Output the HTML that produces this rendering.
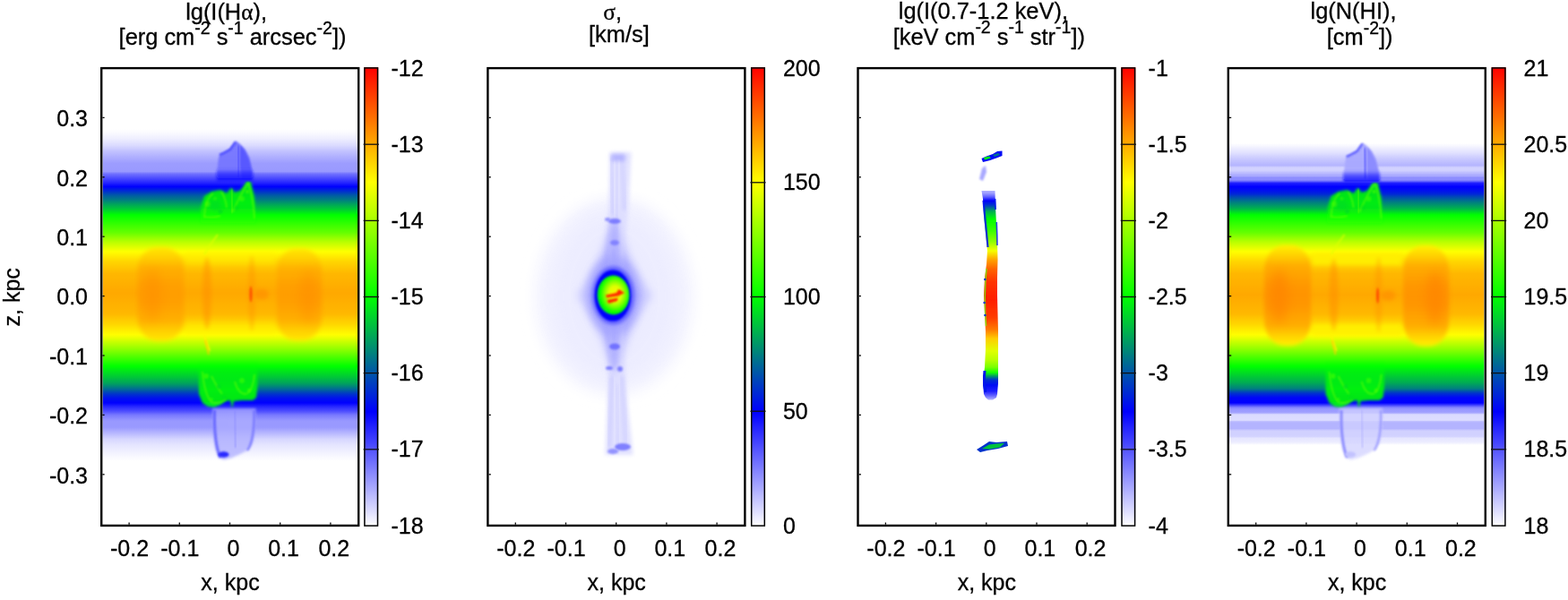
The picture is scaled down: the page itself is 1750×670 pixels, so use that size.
<!DOCTYPE html>
<html><head><meta charset="utf-8"><title>Maps</title>
<style>html,body{margin:0;padding:0;background:#fff;}body{width:1750px;height:670px;overflow:hidden;}svg{display:block;}</style>
</head><body>
<svg width="1750" height="670" viewBox="0 0 1750 670">
<defs><linearGradient id="cbg" x1="0" y1="0" x2="0" y2="1"><stop offset="0.000" stop-color="#ff0000"/><stop offset="0.010" stop-color="#ff0a00"/><stop offset="0.020" stop-color="#ff1400"/><stop offset="0.030" stop-color="#ff1f00"/><stop offset="0.040" stop-color="#ff2900"/><stop offset="0.050" stop-color="#ff3300"/><stop offset="0.060" stop-color="#ff3d00"/><stop offset="0.070" stop-color="#ff4700"/><stop offset="0.080" stop-color="#ff5200"/><stop offset="0.090" stop-color="#ff5c00"/><stop offset="0.100" stop-color="#ff6600"/><stop offset="0.110" stop-color="#ff7000"/><stop offset="0.120" stop-color="#ff7a00"/><stop offset="0.130" stop-color="#ff8500"/><stop offset="0.140" stop-color="#ff8f00"/><stop offset="0.150" stop-color="#ff9900"/><stop offset="0.160" stop-color="#ffa300"/><stop offset="0.170" stop-color="#ffad00"/><stop offset="0.180" stop-color="#ffb800"/><stop offset="0.190" stop-color="#ffc200"/><stop offset="0.200" stop-color="#ffcc00"/><stop offset="0.210" stop-color="#ffd600"/><stop offset="0.220" stop-color="#ffe000"/><stop offset="0.230" stop-color="#ffeb00"/><stop offset="0.240" stop-color="#fff500"/><stop offset="0.250" stop-color="#ffff00"/><stop offset="0.260" stop-color="#f5ff00"/><stop offset="0.270" stop-color="#ebff00"/><stop offset="0.280" stop-color="#e0ff00"/><stop offset="0.290" stop-color="#d6ff00"/><stop offset="0.300" stop-color="#ccff00"/><stop offset="0.310" stop-color="#c2ff00"/><stop offset="0.320" stop-color="#b8ff00"/><stop offset="0.330" stop-color="#adff00"/><stop offset="0.340" stop-color="#a3ff00"/><stop offset="0.350" stop-color="#99ff00"/><stop offset="0.360" stop-color="#8fff00"/><stop offset="0.370" stop-color="#85ff00"/><stop offset="0.380" stop-color="#7aff00"/><stop offset="0.390" stop-color="#70ff00"/><stop offset="0.400" stop-color="#66ff00"/><stop offset="0.410" stop-color="#5cff00"/><stop offset="0.420" stop-color="#52ff00"/><stop offset="0.430" stop-color="#47ff00"/><stop offset="0.440" stop-color="#3dff00"/><stop offset="0.450" stop-color="#33ff00"/><stop offset="0.460" stop-color="#29ff00"/><stop offset="0.470" stop-color="#1fff00"/><stop offset="0.480" stop-color="#14ff00"/><stop offset="0.490" stop-color="#0aff00"/><stop offset="0.500" stop-color="#00ff00"/><stop offset="0.510" stop-color="#00f50a"/><stop offset="0.520" stop-color="#00eb14"/><stop offset="0.530" stop-color="#00e01f"/><stop offset="0.540" stop-color="#00d629"/><stop offset="0.550" stop-color="#00cc33"/><stop offset="0.560" stop-color="#00c23d"/><stop offset="0.570" stop-color="#00b847"/><stop offset="0.580" stop-color="#00ad52"/><stop offset="0.590" stop-color="#00a35c"/><stop offset="0.600" stop-color="#009966"/><stop offset="0.610" stop-color="#008f70"/><stop offset="0.620" stop-color="#00857a"/><stop offset="0.630" stop-color="#007a85"/><stop offset="0.640" stop-color="#00708f"/><stop offset="0.650" stop-color="#006699"/><stop offset="0.660" stop-color="#005ca3"/><stop offset="0.670" stop-color="#0052ad"/><stop offset="0.680" stop-color="#0047b8"/><stop offset="0.690" stop-color="#003dc2"/><stop offset="0.700" stop-color="#0033cc"/><stop offset="0.710" stop-color="#0029d6"/><stop offset="0.720" stop-color="#001fe0"/><stop offset="0.730" stop-color="#0014eb"/><stop offset="0.740" stop-color="#000af5"/><stop offset="0.750" stop-color="#0000ff"/><stop offset="0.760" stop-color="#0a0aff"/><stop offset="0.770" stop-color="#1414ff"/><stop offset="0.780" stop-color="#1f1fff"/><stop offset="0.790" stop-color="#2929ff"/><stop offset="0.800" stop-color="#3333ff"/><stop offset="0.810" stop-color="#3d3dff"/><stop offset="0.820" stop-color="#4747ff"/><stop offset="0.830" stop-color="#5252ff"/><stop offset="0.840" stop-color="#5c5cff"/><stop offset="0.850" stop-color="#6666ff"/><stop offset="0.860" stop-color="#7070ff"/><stop offset="0.870" stop-color="#7a7aff"/><stop offset="0.880" stop-color="#8585ff"/><stop offset="0.890" stop-color="#8f8fff"/><stop offset="0.900" stop-color="#9999ff"/><stop offset="0.910" stop-color="#a3a3ff"/><stop offset="0.920" stop-color="#adadff"/><stop offset="0.930" stop-color="#b8b8ff"/><stop offset="0.940" stop-color="#c2c2ff"/><stop offset="0.950" stop-color="#ccccff"/><stop offset="0.960" stop-color="#d6d6ff"/><stop offset="0.970" stop-color="#e0e0ff"/><stop offset="0.980" stop-color="#ebebff"/><stop offset="0.990" stop-color="#f5f5ff"/><stop offset="1.000" stop-color="#ffffff"/></linearGradient>
<radialGradient id="lober0"><stop offset="0" stop-color="#ff9700"/><stop offset="0.7" stop-color="#ff9e00"/><stop offset="0.88" stop-color="#ffb800"/><stop offset="0.97" stop-color="#ffe500"/><stop offset="1" stop-color="#ffe500" stop-opacity="0.6"/></radialGradient>
<radialGradient id="lober1"><stop offset="0" stop-color="#ff9100"/><stop offset="0.7" stop-color="#ff9900"/><stop offset="0.88" stop-color="#ffba00"/><stop offset="0.97" stop-color="#fff000"/><stop offset="1" stop-color="#fff000" stop-opacity="0.6"/></radialGradient>
<linearGradient id="lobeg0" x1="0" y1="0" x2="0" y2="1"><stop offset="0.00" stop-color="#ffe500"/><stop offset="0.08" stop-color="#ffd600"/><stop offset="0.22" stop-color="#ffaf00"/><stop offset="0.40" stop-color="#ffa000"/><stop offset="0.50" stop-color="#ff9d00"/><stop offset="0.60" stop-color="#ffa000"/><stop offset="0.78" stop-color="#ffaf00"/><stop offset="0.92" stop-color="#ffd600"/><stop offset="1.00" stop-color="#ffe500"/></linearGradient>
<linearGradient id="lobeg1" x1="0" y1="0" x2="0" y2="1"><stop offset="0.00" stop-color="#fff000"/><stop offset="0.07" stop-color="#ffdb00"/><stop offset="0.20" stop-color="#ffad00"/><stop offset="0.40" stop-color="#ff9700"/><stop offset="0.50" stop-color="#ff9400"/><stop offset="0.60" stop-color="#ff9700"/><stop offset="0.80" stop-color="#ffad00"/><stop offset="0.93" stop-color="#ffdb00"/><stop offset="1.00" stop-color="#fff000"/></linearGradient>
<linearGradient id="jetg" gradientUnits="userSpaceOnUse" x1="0" y1="212" x2="0" y2="446"><stop offset="0.0000" stop-color="#b8b8ff"/><stop offset="0.0171" stop-color="#9999ff"/><stop offset="0.0342" stop-color="#5c5cff"/><stop offset="0.0513" stop-color="#0000ff"/><stop offset="0.0726" stop-color="#0033cc"/><stop offset="0.1026" stop-color="#00ad52"/><stop offset="0.1410" stop-color="#00ff00"/><stop offset="0.1966" stop-color="#3dff00"/><stop offset="0.2479" stop-color="#8fff00"/><stop offset="0.2906" stop-color="#f5ff00"/><stop offset="0.3333" stop-color="#ffa300"/><stop offset="0.3761" stop-color="#ff6600"/><stop offset="0.4402" stop-color="#ff3300"/><stop offset="0.5256" stop-color="#ff1f00"/><stop offset="0.6111" stop-color="#ff3d00"/><stop offset="0.6667" stop-color="#ff7a00"/><stop offset="0.7094" stop-color="#ffcc00"/><stop offset="0.7692" stop-color="#e0ff00"/><stop offset="0.8120" stop-color="#b8ff00"/><stop offset="0.8462" stop-color="#7aff00"/><stop offset="0.8718" stop-color="#14ff00"/><stop offset="0.8889" stop-color="#009966"/><stop offset="0.9060" stop-color="#0033cc"/><stop offset="0.9316" stop-color="#000af5"/><stop offset="0.9615" stop-color="#1f1fff"/><stop offset="0.9829" stop-color="#6666ff"/><stop offset="1.0000" stop-color="#adadff"/></linearGradient>
<radialGradient id="blobg" cx="0.55" cy="0.47" r="0.55"><stop offset="0" stop-color="#fff500"/><stop offset="0.35" stop-color="#e0ff00"/><stop offset="0.6" stop-color="#7aff00"/><stop offset="0.8" stop-color="#14ff00"/><stop offset="0.92" stop-color="#00ff00"/><stop offset="1" stop-color="#00ad52"/></radialGradient>
<linearGradient id="wispg" x1="0" y1="0" x2="0" y2="1"><stop offset="0" stop-color="#14ff00" stop-opacity="0"/><stop offset="0.3" stop-color="#0aff00" stop-opacity="0.6"/><stop offset="0.6" stop-color="#00ff00" stop-opacity="0.9"/><stop offset="1" stop-color="#00f50a" stop-opacity="0.95"/></linearGradient>
<linearGradient id="wispu" x1="0" y1="0" x2="0" y2="1"><stop offset="0" stop-color="#00f50a" stop-opacity="0.95"/><stop offset="0.5" stop-color="#00ff00" stop-opacity="0.85"/><stop offset="0.8" stop-color="#14ff00" stop-opacity="0.5"/><stop offset="1" stop-color="#1fff00" stop-opacity="0"/></linearGradient>
<linearGradient id="bbase" x1="0" y1="0" x2="0" y2="1"><stop offset="0" stop-color="#3333ff" stop-opacity="0"/><stop offset="0.45" stop-color="#1414ff" stop-opacity="0.6"/><stop offset="1" stop-color="#0000ff" stop-opacity="0.9"/></linearGradient>
<linearGradient id="band1" gradientUnits="userSpaceOnUse" x1="0" y1="0.0" x2="0" y2="670.0"><stop offset="0.0000" stop-color="#ffffff"/><stop offset="0.0020" stop-color="#ffffff"/><stop offset="0.0039" stop-color="#ffffff"/><stop offset="0.0059" stop-color="#ffffff"/><stop offset="0.0078" stop-color="#ffffff"/><stop offset="0.0098" stop-color="#ffffff"/><stop offset="0.0117" stop-color="#ffffff"/><stop offset="0.0137" stop-color="#ffffff"/><stop offset="0.0157" stop-color="#ffffff"/><stop offset="0.0176" stop-color="#ffffff"/><stop offset="0.0196" stop-color="#ffffff"/><stop offset="0.0215" stop-color="#ffffff"/><stop offset="0.0235" stop-color="#ffffff"/><stop offset="0.0254" stop-color="#ffffff"/><stop offset="0.0274" stop-color="#ffffff"/><stop offset="0.0294" stop-color="#ffffff"/><stop offset="0.0313" stop-color="#ffffff"/><stop offset="0.0333" stop-color="#ffffff"/><stop offset="0.0352" stop-color="#ffffff"/><stop offset="0.0372" stop-color="#ffffff"/><stop offset="0.0391" stop-color="#ffffff"/><stop offset="0.0411" stop-color="#ffffff"/><stop offset="0.0431" stop-color="#ffffff"/><stop offset="0.0450" stop-color="#ffffff"/><stop offset="0.0470" stop-color="#ffffff"/><stop offset="0.0489" stop-color="#ffffff"/><stop offset="0.0509" stop-color="#ffffff"/><stop offset="0.0528" stop-color="#ffffff"/><stop offset="0.0548" stop-color="#ffffff"/><stop offset="0.0568" stop-color="#ffffff"/><stop offset="0.0587" stop-color="#ffffff"/><stop offset="0.0607" stop-color="#ffffff"/><stop offset="0.0626" stop-color="#ffffff"/><stop offset="0.0646" stop-color="#ffffff"/><stop offset="0.0665" stop-color="#ffffff"/><stop offset="0.0685" stop-color="#ffffff"/><stop offset="0.0705" stop-color="#ffffff"/><stop offset="0.0724" stop-color="#ffffff"/><stop offset="0.0744" stop-color="#ffffff"/><stop offset="0.0763" stop-color="#ffffff"/><stop offset="0.0783" stop-color="#ffffff"/><stop offset="0.0802" stop-color="#ffffff"/><stop offset="0.0822" stop-color="#ffffff"/><stop offset="0.0841" stop-color="#ffffff"/><stop offset="0.0861" stop-color="#ffffff"/><stop offset="0.0881" stop-color="#ffffff"/><stop offset="0.0900" stop-color="#ffffff"/><stop offset="0.0920" stop-color="#ffffff"/><stop offset="0.0939" stop-color="#ffffff"/><stop offset="0.0959" stop-color="#ffffff"/><stop offset="0.0978" stop-color="#ffffff"/><stop offset="0.0998" stop-color="#ffffff"/><stop offset="0.1018" stop-color="#ffffff"/><stop offset="0.1037" stop-color="#ffffff"/><stop offset="0.1057" stop-color="#ffffff"/><stop offset="0.1076" stop-color="#ffffff"/><stop offset="0.1096" stop-color="#ffffff"/><stop offset="0.1115" stop-color="#ffffff"/><stop offset="0.1135" stop-color="#ffffff"/><stop offset="0.1155" stop-color="#ffffff"/><stop offset="0.1174" stop-color="#ffffff"/><stop offset="0.1194" stop-color="#ffffff"/><stop offset="0.1213" stop-color="#ffffff"/><stop offset="0.1233" stop-color="#ffffff"/><stop offset="0.1252" stop-color="#ffffff"/><stop offset="0.1272" stop-color="#ffffff"/><stop offset="0.1292" stop-color="#ffffff"/><stop offset="0.1311" stop-color="#ffffff"/><stop offset="0.1331" stop-color="#ffffff"/><stop offset="0.1350" stop-color="#ffffff"/><stop offset="0.1370" stop-color="#ffffff"/><stop offset="0.1389" stop-color="#ffffff"/><stop offset="0.1409" stop-color="#ffffff"/><stop offset="0.1429" stop-color="#ffffff"/><stop offset="0.1448" stop-color="#ffffff"/><stop offset="0.1468" stop-color="#ffffff"/><stop offset="0.1487" stop-color="#ffffff"/><stop offset="0.1507" stop-color="#ffffff"/><stop offset="0.1526" stop-color="#ffffff"/><stop offset="0.1546" stop-color="#ffffff"/><stop offset="0.1566" stop-color="#ffffff"/><stop offset="0.1585" stop-color="#ffffff"/><stop offset="0.1605" stop-color="#ffffff"/><stop offset="0.1624" stop-color="#ffffff"/><stop offset="0.1644" stop-color="#ffffff"/><stop offset="0.1663" stop-color="#ffffff"/><stop offset="0.1683" stop-color="#ffffff"/><stop offset="0.1703" stop-color="#ffffff"/><stop offset="0.1722" stop-color="#ffffff"/><stop offset="0.1742" stop-color="#ffffff"/><stop offset="0.1761" stop-color="#ffffff"/><stop offset="0.1781" stop-color="#ffffff"/><stop offset="0.1800" stop-color="#ffffff"/><stop offset="0.1820" stop-color="#ffffff"/><stop offset="0.1840" stop-color="#ffffff"/><stop offset="0.1859" stop-color="#ffffff"/><stop offset="0.1879" stop-color="#ffffff"/><stop offset="0.1898" stop-color="#ffffff"/><stop offset="0.1918" stop-color="#ffffff"/><stop offset="0.1937" stop-color="#ffffff"/><stop offset="0.1957" stop-color="#ffffff"/><stop offset="0.1977" stop-color="#ffffff"/><stop offset="0.1996" stop-color="#ffffff"/><stop offset="0.2016" stop-color="#ffffff"/><stop offset="0.2035" stop-color="#ffffff"/><stop offset="0.2055" stop-color="#ffffff"/><stop offset="0.2074" stop-color="#ffffff"/><stop offset="0.2094" stop-color="#ffffff"/><stop offset="0.2114" stop-color="#ffffff"/><stop offset="0.2133" stop-color="#ffffff"/><stop offset="0.2153" stop-color="#ffffff"/><stop offset="0.2172" stop-color="#fdfdff"/><stop offset="0.2192" stop-color="#fcfcff"/><stop offset="0.2211" stop-color="#fafaff"/><stop offset="0.2231" stop-color="#f8f8ff"/><stop offset="0.2250" stop-color="#f6f6ff"/><stop offset="0.2270" stop-color="#f3f3ff"/><stop offset="0.2290" stop-color="#f1f1ff"/><stop offset="0.2309" stop-color="#efefff"/><stop offset="0.2329" stop-color="#ececff"/><stop offset="0.2348" stop-color="#e8e8ff"/><stop offset="0.2368" stop-color="#e5e5ff"/><stop offset="0.2387" stop-color="#e1e1ff"/><stop offset="0.2407" stop-color="#dedeff"/><stop offset="0.2427" stop-color="#dadaff"/><stop offset="0.2446" stop-color="#d5d5ff"/><stop offset="0.2466" stop-color="#d0d0ff"/><stop offset="0.2485" stop-color="#cbcbff"/><stop offset="0.2505" stop-color="#c6c6ff"/><stop offset="0.2524" stop-color="#c1c1ff"/><stop offset="0.2544" stop-color="#bdbdff"/><stop offset="0.2564" stop-color="#babaff"/><stop offset="0.2583" stop-color="#b6b6ff"/><stop offset="0.2603" stop-color="#b2b2ff"/><stop offset="0.2622" stop-color="#aeaeff"/><stop offset="0.2642" stop-color="#ababff"/><stop offset="0.2661" stop-color="#a7a7ff"/><stop offset="0.2681" stop-color="#a4a4ff"/><stop offset="0.2701" stop-color="#a0a0ff"/><stop offset="0.2720" stop-color="#9d9dff"/><stop offset="0.2740" stop-color="#9c9cff"/><stop offset="0.2759" stop-color="#9c9cff"/><stop offset="0.2779" stop-color="#9b9bff"/><stop offset="0.2798" stop-color="#9b9bff"/><stop offset="0.2818" stop-color="#9a9aff"/><stop offset="0.2838" stop-color="#9a9aff"/><stop offset="0.2857" stop-color="#9999ff"/><stop offset="0.2877" stop-color="#8686ff"/><stop offset="0.2896" stop-color="#7171ff"/><stop offset="0.2916" stop-color="#6767ff"/><stop offset="0.2935" stop-color="#5d5dff"/><stop offset="0.2955" stop-color="#5353ff"/><stop offset="0.2975" stop-color="#4949ff"/><stop offset="0.2994" stop-color="#3f3fff"/><stop offset="0.3014" stop-color="#3535ff"/><stop offset="0.3033" stop-color="#2b2bff"/><stop offset="0.3053" stop-color="#2121ff"/><stop offset="0.3072" stop-color="#1616ff"/><stop offset="0.3092" stop-color="#0a0aff"/><stop offset="0.3112" stop-color="#0002fd"/><stop offset="0.3131" stop-color="#000df2"/><stop offset="0.3151" stop-color="#0018e7"/><stop offset="0.3170" stop-color="#0024db"/><stop offset="0.3190" stop-color="#0030cf"/><stop offset="0.3209" stop-color="#003cc3"/><stop offset="0.3229" stop-color="#0049b6"/><stop offset="0.3249" stop-color="#0056a9"/><stop offset="0.3268" stop-color="#00609f"/><stop offset="0.3288" stop-color="#006996"/><stop offset="0.3307" stop-color="#00728d"/><stop offset="0.3327" stop-color="#007a85"/><stop offset="0.3346" stop-color="#00847b"/><stop offset="0.3366" stop-color="#008f70"/><stop offset="0.3386" stop-color="#009966"/><stop offset="0.3405" stop-color="#00a45b"/><stop offset="0.3425" stop-color="#00ad52"/><stop offset="0.3444" stop-color="#00b649"/><stop offset="0.3464" stop-color="#00bf40"/><stop offset="0.3483" stop-color="#00c837"/><stop offset="0.3503" stop-color="#00d22d"/><stop offset="0.3523" stop-color="#00dd22"/><stop offset="0.3542" stop-color="#00e817"/><stop offset="0.3562" stop-color="#00f30c"/><stop offset="0.3581" stop-color="#00ff00"/><stop offset="0.3601" stop-color="#06ff00"/><stop offset="0.3620" stop-color="#0dff00"/><stop offset="0.3640" stop-color="#14ff00"/><stop offset="0.3659" stop-color="#1aff00"/><stop offset="0.3679" stop-color="#21ff00"/><stop offset="0.3699" stop-color="#28ff00"/><stop offset="0.3718" stop-color="#2fff00"/><stop offset="0.3738" stop-color="#35ff00"/><stop offset="0.3757" stop-color="#3cff00"/><stop offset="0.3777" stop-color="#43ff00"/><stop offset="0.3796" stop-color="#49ff00"/><stop offset="0.3816" stop-color="#50ff00"/><stop offset="0.3836" stop-color="#57ff00"/><stop offset="0.3855" stop-color="#5dff00"/><stop offset="0.3875" stop-color="#64ff00"/><stop offset="0.3894" stop-color="#6eff00"/><stop offset="0.3914" stop-color="#78ff00"/><stop offset="0.3933" stop-color="#83ff00"/><stop offset="0.3953" stop-color="#8eff00"/><stop offset="0.3973" stop-color="#98ff00"/><stop offset="0.3992" stop-color="#a3ff00"/><stop offset="0.4012" stop-color="#aeff00"/><stop offset="0.4031" stop-color="#b8ff00"/><stop offset="0.4051" stop-color="#c1ff00"/><stop offset="0.4070" stop-color="#c9ff00"/><stop offset="0.4090" stop-color="#d2ff00"/><stop offset="0.4110" stop-color="#daff00"/><stop offset="0.4129" stop-color="#e3ff00"/><stop offset="0.4149" stop-color="#ebff00"/><stop offset="0.4168" stop-color="#f4ff00"/><stop offset="0.4188" stop-color="#fcff00"/><stop offset="0.4207" stop-color="#fffc00"/><stop offset="0.4227" stop-color="#fff700"/><stop offset="0.4247" stop-color="#fff200"/><stop offset="0.4266" stop-color="#ffed00"/><stop offset="0.4286" stop-color="#ffe800"/><stop offset="0.4305" stop-color="#ffe300"/><stop offset="0.4325" stop-color="#ffde00"/><stop offset="0.4344" stop-color="#ffda00"/><stop offset="0.4364" stop-color="#ffd500"/><stop offset="0.4384" stop-color="#ffd200"/><stop offset="0.4403" stop-color="#ffcf00"/><stop offset="0.4423" stop-color="#ffcc00"/><stop offset="0.4442" stop-color="#ffc900"/><stop offset="0.4462" stop-color="#ffc600"/><stop offset="0.4481" stop-color="#ffc300"/><stop offset="0.4501" stop-color="#ffc000"/><stop offset="0.4521" stop-color="#ffbd00"/><stop offset="0.4540" stop-color="#ffba00"/><stop offset="0.4560" stop-color="#ffb700"/><stop offset="0.4579" stop-color="#ffb600"/><stop offset="0.4599" stop-color="#ffb500"/><stop offset="0.4618" stop-color="#ffb500"/><stop offset="0.4638" stop-color="#ffb400"/><stop offset="0.4658" stop-color="#ffb300"/><stop offset="0.4677" stop-color="#ffb200"/><stop offset="0.4697" stop-color="#ffb100"/><stop offset="0.4716" stop-color="#ffb000"/><stop offset="0.4736" stop-color="#ffaf00"/><stop offset="0.4755" stop-color="#ffae00"/><stop offset="0.4775" stop-color="#ffad00"/><stop offset="0.4795" stop-color="#ffac00"/><stop offset="0.4814" stop-color="#ffab00"/><stop offset="0.4834" stop-color="#ffaa00"/><stop offset="0.4853" stop-color="#ffaa00"/><stop offset="0.4873" stop-color="#ffa900"/><stop offset="0.4892" stop-color="#ffa900"/><stop offset="0.4912" stop-color="#ffaa00"/><stop offset="0.4932" stop-color="#ffab00"/><stop offset="0.4951" stop-color="#ffab00"/><stop offset="0.4971" stop-color="#ffac00"/><stop offset="0.4990" stop-color="#ffad00"/><stop offset="0.5010" stop-color="#ffae00"/><stop offset="0.5029" stop-color="#ffaf00"/><stop offset="0.5049" stop-color="#ffb000"/><stop offset="0.5068" stop-color="#ffb100"/><stop offset="0.5088" stop-color="#ffb200"/><stop offset="0.5108" stop-color="#ffb200"/><stop offset="0.5127" stop-color="#ffb300"/><stop offset="0.5147" stop-color="#ffb400"/><stop offset="0.5166" stop-color="#ffb500"/><stop offset="0.5186" stop-color="#ffb600"/><stop offset="0.5205" stop-color="#ffb700"/><stop offset="0.5225" stop-color="#ffb800"/><stop offset="0.5245" stop-color="#ffbb00"/><stop offset="0.5264" stop-color="#ffbe00"/><stop offset="0.5284" stop-color="#ffc200"/><stop offset="0.5303" stop-color="#ffc500"/><stop offset="0.5323" stop-color="#ffc900"/><stop offset="0.5342" stop-color="#ffcc00"/><stop offset="0.5362" stop-color="#ffcf00"/><stop offset="0.5382" stop-color="#ffd300"/><stop offset="0.5401" stop-color="#ffd600"/><stop offset="0.5421" stop-color="#ffda00"/><stop offset="0.5440" stop-color="#ffdf00"/><stop offset="0.5460" stop-color="#ffe300"/><stop offset="0.5479" stop-color="#ffe800"/><stop offset="0.5499" stop-color="#ffec00"/><stop offset="0.5519" stop-color="#fff100"/><stop offset="0.5538" stop-color="#fff500"/><stop offset="0.5558" stop-color="#fff900"/><stop offset="0.5577" stop-color="#fffe00"/><stop offset="0.5597" stop-color="#f8ff00"/><stop offset="0.5616" stop-color="#efff00"/><stop offset="0.5636" stop-color="#e6ff00"/><stop offset="0.5656" stop-color="#dcff00"/><stop offset="0.5675" stop-color="#d3ff00"/><stop offset="0.5695" stop-color="#caff00"/><stop offset="0.5714" stop-color="#c1ff00"/><stop offset="0.5734" stop-color="#b8ff00"/><stop offset="0.5753" stop-color="#afff00"/><stop offset="0.5773" stop-color="#a5ff00"/><stop offset="0.5793" stop-color="#9cff00"/><stop offset="0.5812" stop-color="#93ff00"/><stop offset="0.5832" stop-color="#89ff00"/><stop offset="0.5851" stop-color="#80ff00"/><stop offset="0.5871" stop-color="#76ff00"/><stop offset="0.5890" stop-color="#6cff00"/><stop offset="0.5910" stop-color="#62ff00"/><stop offset="0.5930" stop-color="#58ff00"/><stop offset="0.5949" stop-color="#4eff00"/><stop offset="0.5969" stop-color="#44ff00"/><stop offset="0.5988" stop-color="#3bff00"/><stop offset="0.6008" stop-color="#31ff00"/><stop offset="0.6027" stop-color="#27ff00"/><stop offset="0.6047" stop-color="#1dff00"/><stop offset="0.6067" stop-color="#13ff00"/><stop offset="0.6086" stop-color="#09ff00"/><stop offset="0.6106" stop-color="#00ff00"/><stop offset="0.6125" stop-color="#00f906"/><stop offset="0.6145" stop-color="#00f20d"/><stop offset="0.6164" stop-color="#00ec13"/><stop offset="0.6184" stop-color="#00e619"/><stop offset="0.6204" stop-color="#00e01f"/><stop offset="0.6223" stop-color="#00da25"/><stop offset="0.6243" stop-color="#00d42b"/><stop offset="0.6262" stop-color="#00ce31"/><stop offset="0.6282" stop-color="#00c837"/><stop offset="0.6301" stop-color="#00c13e"/><stop offset="0.6321" stop-color="#00ba45"/><stop offset="0.6341" stop-color="#00b34c"/><stop offset="0.6360" stop-color="#00ad52"/><stop offset="0.6380" stop-color="#00a659"/><stop offset="0.6399" stop-color="#009d62"/><stop offset="0.6419" stop-color="#00926d"/><stop offset="0.6438" stop-color="#008778"/><stop offset="0.6458" stop-color="#007b84"/><stop offset="0.6477" stop-color="#00708f"/><stop offset="0.6497" stop-color="#00639c"/><stop offset="0.6517" stop-color="#0056a9"/><stop offset="0.6536" stop-color="#0048b7"/><stop offset="0.6556" stop-color="#003bc4"/><stop offset="0.6575" stop-color="#002fd0"/><stop offset="0.6595" stop-color="#0026d9"/><stop offset="0.6614" stop-color="#001ce3"/><stop offset="0.6634" stop-color="#0013ec"/><stop offset="0.6654" stop-color="#000df2"/><stop offset="0.6673" stop-color="#0009f6"/><stop offset="0.6693" stop-color="#0005fa"/><stop offset="0.6712" stop-color="#0001fe"/><stop offset="0.6732" stop-color="#0a0aff"/><stop offset="0.6751" stop-color="#1717ff"/><stop offset="0.6771" stop-color="#2424ff"/><stop offset="0.6791" stop-color="#2f2fff"/><stop offset="0.6810" stop-color="#3939ff"/><stop offset="0.6830" stop-color="#4242ff"/><stop offset="0.6849" stop-color="#4c4cff"/><stop offset="0.6869" stop-color="#5858ff"/><stop offset="0.6888" stop-color="#6565ff"/><stop offset="0.6908" stop-color="#7373ff"/><stop offset="0.6928" stop-color="#7d7dff"/><stop offset="0.6947" stop-color="#8383ff"/><stop offset="0.6967" stop-color="#8a8aff"/><stop offset="0.6986" stop-color="#9090ff"/><stop offset="0.7006" stop-color="#9696ff"/><stop offset="0.7025" stop-color="#9999ff"/><stop offset="0.7045" stop-color="#9999ff"/><stop offset="0.7065" stop-color="#9999ff"/><stop offset="0.7084" stop-color="#9999ff"/><stop offset="0.7104" stop-color="#9999ff"/><stop offset="0.7123" stop-color="#9a9aff"/><stop offset="0.7143" stop-color="#a0a0ff"/><stop offset="0.7162" stop-color="#a6a6ff"/><stop offset="0.7182" stop-color="#acacff"/><stop offset="0.7202" stop-color="#b2b2ff"/><stop offset="0.7221" stop-color="#b8b8ff"/><stop offset="0.7241" stop-color="#bebeff"/><stop offset="0.7260" stop-color="#c4c4ff"/><stop offset="0.7280" stop-color="#cacaff"/><stop offset="0.7299" stop-color="#d0d0ff"/><stop offset="0.7319" stop-color="#d6d6ff"/><stop offset="0.7339" stop-color="#d9d9ff"/><stop offset="0.7358" stop-color="#dcdcff"/><stop offset="0.7378" stop-color="#dfdfff"/><stop offset="0.7397" stop-color="#e2e2ff"/><stop offset="0.7417" stop-color="#e5e5ff"/><stop offset="0.7436" stop-color="#e7e7ff"/><stop offset="0.7456" stop-color="#e9e9ff"/><stop offset="0.7476" stop-color="#ebebff"/><stop offset="0.7495" stop-color="#ededff"/><stop offset="0.7515" stop-color="#efefff"/><stop offset="0.7534" stop-color="#f1f1ff"/><stop offset="0.7554" stop-color="#f3f3ff"/><stop offset="0.7573" stop-color="#f5f5ff"/><stop offset="0.7593" stop-color="#f7f7ff"/><stop offset="0.7613" stop-color="#f9f9ff"/><stop offset="0.7632" stop-color="#fbfbff"/><stop offset="0.7652" stop-color="#fcfcff"/><stop offset="0.7671" stop-color="#fefeff"/><stop offset="0.7691" stop-color="#ffffff"/><stop offset="0.7710" stop-color="#ffffff"/><stop offset="0.7730" stop-color="#ffffff"/><stop offset="0.7750" stop-color="#ffffff"/><stop offset="0.7769" stop-color="#ffffff"/><stop offset="0.7789" stop-color="#ffffff"/><stop offset="0.7808" stop-color="#ffffff"/><stop offset="0.7828" stop-color="#ffffff"/><stop offset="0.7847" stop-color="#ffffff"/><stop offset="0.7867" stop-color="#ffffff"/><stop offset="0.7886" stop-color="#ffffff"/><stop offset="0.7906" stop-color="#ffffff"/><stop offset="0.7926" stop-color="#ffffff"/><stop offset="0.7945" stop-color="#ffffff"/><stop offset="0.7965" stop-color="#ffffff"/><stop offset="0.7984" stop-color="#ffffff"/><stop offset="0.8004" stop-color="#ffffff"/><stop offset="0.8023" stop-color="#ffffff"/><stop offset="0.8043" stop-color="#ffffff"/><stop offset="0.8063" stop-color="#ffffff"/><stop offset="0.8082" stop-color="#ffffff"/><stop offset="0.8102" stop-color="#ffffff"/><stop offset="0.8121" stop-color="#ffffff"/><stop offset="0.8141" stop-color="#ffffff"/><stop offset="0.8160" stop-color="#ffffff"/><stop offset="0.8180" stop-color="#ffffff"/><stop offset="0.8200" stop-color="#ffffff"/><stop offset="0.8219" stop-color="#ffffff"/><stop offset="0.8239" stop-color="#ffffff"/><stop offset="0.8258" stop-color="#ffffff"/><stop offset="0.8278" stop-color="#ffffff"/><stop offset="0.8297" stop-color="#ffffff"/><stop offset="0.8317" stop-color="#ffffff"/><stop offset="0.8337" stop-color="#ffffff"/><stop offset="0.8356" stop-color="#ffffff"/><stop offset="0.8376" stop-color="#ffffff"/><stop offset="0.8395" stop-color="#ffffff"/><stop offset="0.8415" stop-color="#ffffff"/><stop offset="0.8434" stop-color="#ffffff"/><stop offset="0.8454" stop-color="#ffffff"/><stop offset="0.8474" stop-color="#ffffff"/><stop offset="0.8493" stop-color="#ffffff"/><stop offset="0.8513" stop-color="#ffffff"/><stop offset="0.8532" stop-color="#ffffff"/><stop offset="0.8552" stop-color="#ffffff"/><stop offset="0.8571" stop-color="#ffffff"/><stop offset="0.8591" stop-color="#ffffff"/><stop offset="0.8611" stop-color="#ffffff"/><stop offset="0.8630" stop-color="#ffffff"/><stop offset="0.8650" stop-color="#ffffff"/><stop offset="0.8669" stop-color="#ffffff"/><stop offset="0.8689" stop-color="#ffffff"/><stop offset="0.8708" stop-color="#ffffff"/><stop offset="0.8728" stop-color="#ffffff"/><stop offset="0.8748" stop-color="#ffffff"/><stop offset="0.8767" stop-color="#ffffff"/><stop offset="0.8787" stop-color="#ffffff"/><stop offset="0.8806" stop-color="#ffffff"/><stop offset="0.8826" stop-color="#ffffff"/><stop offset="0.8845" stop-color="#ffffff"/><stop offset="0.8865" stop-color="#ffffff"/><stop offset="0.8885" stop-color="#ffffff"/><stop offset="0.8904" stop-color="#ffffff"/><stop offset="0.8924" stop-color="#ffffff"/><stop offset="0.8943" stop-color="#ffffff"/><stop offset="0.8963" stop-color="#ffffff"/><stop offset="0.8982" stop-color="#ffffff"/><stop offset="0.9002" stop-color="#ffffff"/><stop offset="0.9022" stop-color="#ffffff"/><stop offset="0.9041" stop-color="#ffffff"/><stop offset="0.9061" stop-color="#ffffff"/><stop offset="0.9080" stop-color="#ffffff"/><stop offset="0.9100" stop-color="#ffffff"/><stop offset="0.9119" stop-color="#ffffff"/><stop offset="0.9139" stop-color="#ffffff"/><stop offset="0.9159" stop-color="#ffffff"/><stop offset="0.9178" stop-color="#ffffff"/><stop offset="0.9198" stop-color="#ffffff"/><stop offset="0.9217" stop-color="#ffffff"/><stop offset="0.9237" stop-color="#ffffff"/><stop offset="0.9256" stop-color="#ffffff"/><stop offset="0.9276" stop-color="#ffffff"/><stop offset="0.9295" stop-color="#ffffff"/><stop offset="0.9315" stop-color="#ffffff"/><stop offset="0.9335" stop-color="#ffffff"/><stop offset="0.9354" stop-color="#ffffff"/><stop offset="0.9374" stop-color="#ffffff"/><stop offset="0.9393" stop-color="#ffffff"/><stop offset="0.9413" stop-color="#ffffff"/><stop offset="0.9432" stop-color="#ffffff"/><stop offset="0.9452" stop-color="#ffffff"/><stop offset="0.9472" stop-color="#ffffff"/><stop offset="0.9491" stop-color="#ffffff"/><stop offset="0.9511" stop-color="#ffffff"/><stop offset="0.9530" stop-color="#ffffff"/><stop offset="0.9550" stop-color="#ffffff"/><stop offset="0.9569" stop-color="#ffffff"/><stop offset="0.9589" stop-color="#ffffff"/><stop offset="0.9609" stop-color="#ffffff"/><stop offset="0.9628" stop-color="#ffffff"/><stop offset="0.9648" stop-color="#ffffff"/><stop offset="0.9667" stop-color="#ffffff"/><stop offset="0.9687" stop-color="#ffffff"/><stop offset="0.9706" stop-color="#ffffff"/><stop offset="0.9726" stop-color="#ffffff"/><stop offset="0.9746" stop-color="#ffffff"/><stop offset="0.9765" stop-color="#ffffff"/><stop offset="0.9785" stop-color="#ffffff"/><stop offset="0.9804" stop-color="#ffffff"/><stop offset="0.9824" stop-color="#ffffff"/><stop offset="0.9843" stop-color="#ffffff"/><stop offset="0.9863" stop-color="#ffffff"/><stop offset="0.9883" stop-color="#ffffff"/><stop offset="0.9902" stop-color="#ffffff"/><stop offset="0.9922" stop-color="#ffffff"/><stop offset="0.9941" stop-color="#ffffff"/><stop offset="0.9961" stop-color="#ffffff"/><stop offset="0.9980" stop-color="#ffffff"/><stop offset="1.0000" stop-color="#ffffff"/></linearGradient>
<linearGradient id="band4" gradientUnits="userSpaceOnUse" x1="0" y1="0.0" x2="0" y2="670.0"><stop offset="0.0000" stop-color="#ffffff"/><stop offset="0.0020" stop-color="#ffffff"/><stop offset="0.0039" stop-color="#ffffff"/><stop offset="0.0059" stop-color="#ffffff"/><stop offset="0.0078" stop-color="#ffffff"/><stop offset="0.0098" stop-color="#ffffff"/><stop offset="0.0117" stop-color="#ffffff"/><stop offset="0.0137" stop-color="#ffffff"/><stop offset="0.0157" stop-color="#ffffff"/><stop offset="0.0176" stop-color="#ffffff"/><stop offset="0.0196" stop-color="#ffffff"/><stop offset="0.0215" stop-color="#ffffff"/><stop offset="0.0235" stop-color="#ffffff"/><stop offset="0.0254" stop-color="#ffffff"/><stop offset="0.0274" stop-color="#ffffff"/><stop offset="0.0294" stop-color="#ffffff"/><stop offset="0.0313" stop-color="#ffffff"/><stop offset="0.0333" stop-color="#ffffff"/><stop offset="0.0352" stop-color="#ffffff"/><stop offset="0.0372" stop-color="#ffffff"/><stop offset="0.0391" stop-color="#ffffff"/><stop offset="0.0411" stop-color="#ffffff"/><stop offset="0.0431" stop-color="#ffffff"/><stop offset="0.0450" stop-color="#ffffff"/><stop offset="0.0470" stop-color="#ffffff"/><stop offset="0.0489" stop-color="#ffffff"/><stop offset="0.0509" stop-color="#ffffff"/><stop offset="0.0528" stop-color="#ffffff"/><stop offset="0.0548" stop-color="#ffffff"/><stop offset="0.0568" stop-color="#ffffff"/><stop offset="0.0587" stop-color="#ffffff"/><stop offset="0.0607" stop-color="#ffffff"/><stop offset="0.0626" stop-color="#ffffff"/><stop offset="0.0646" stop-color="#ffffff"/><stop offset="0.0665" stop-color="#ffffff"/><stop offset="0.0685" stop-color="#ffffff"/><stop offset="0.0705" stop-color="#ffffff"/><stop offset="0.0724" stop-color="#ffffff"/><stop offset="0.0744" stop-color="#ffffff"/><stop offset="0.0763" stop-color="#ffffff"/><stop offset="0.0783" stop-color="#ffffff"/><stop offset="0.0802" stop-color="#ffffff"/><stop offset="0.0822" stop-color="#ffffff"/><stop offset="0.0841" stop-color="#ffffff"/><stop offset="0.0861" stop-color="#ffffff"/><stop offset="0.0881" stop-color="#ffffff"/><stop offset="0.0900" stop-color="#ffffff"/><stop offset="0.0920" stop-color="#ffffff"/><stop offset="0.0939" stop-color="#ffffff"/><stop offset="0.0959" stop-color="#ffffff"/><stop offset="0.0978" stop-color="#ffffff"/><stop offset="0.0998" stop-color="#ffffff"/><stop offset="0.1018" stop-color="#ffffff"/><stop offset="0.1037" stop-color="#ffffff"/><stop offset="0.1057" stop-color="#ffffff"/><stop offset="0.1076" stop-color="#ffffff"/><stop offset="0.1096" stop-color="#ffffff"/><stop offset="0.1115" stop-color="#ffffff"/><stop offset="0.1135" stop-color="#ffffff"/><stop offset="0.1155" stop-color="#ffffff"/><stop offset="0.1174" stop-color="#ffffff"/><stop offset="0.1194" stop-color="#ffffff"/><stop offset="0.1213" stop-color="#ffffff"/><stop offset="0.1233" stop-color="#ffffff"/><stop offset="0.1252" stop-color="#ffffff"/><stop offset="0.1272" stop-color="#ffffff"/><stop offset="0.1292" stop-color="#ffffff"/><stop offset="0.1311" stop-color="#ffffff"/><stop offset="0.1331" stop-color="#ffffff"/><stop offset="0.1350" stop-color="#ffffff"/><stop offset="0.1370" stop-color="#ffffff"/><stop offset="0.1389" stop-color="#ffffff"/><stop offset="0.1409" stop-color="#ffffff"/><stop offset="0.1429" stop-color="#ffffff"/><stop offset="0.1448" stop-color="#ffffff"/><stop offset="0.1468" stop-color="#ffffff"/><stop offset="0.1487" stop-color="#ffffff"/><stop offset="0.1507" stop-color="#ffffff"/><stop offset="0.1526" stop-color="#ffffff"/><stop offset="0.1546" stop-color="#ffffff"/><stop offset="0.1566" stop-color="#ffffff"/><stop offset="0.1585" stop-color="#ffffff"/><stop offset="0.1605" stop-color="#ffffff"/><stop offset="0.1624" stop-color="#ffffff"/><stop offset="0.1644" stop-color="#ffffff"/><stop offset="0.1663" stop-color="#ffffff"/><stop offset="0.1683" stop-color="#ffffff"/><stop offset="0.1703" stop-color="#ffffff"/><stop offset="0.1722" stop-color="#ffffff"/><stop offset="0.1742" stop-color="#ffffff"/><stop offset="0.1761" stop-color="#ffffff"/><stop offset="0.1781" stop-color="#ffffff"/><stop offset="0.1800" stop-color="#ffffff"/><stop offset="0.1820" stop-color="#ffffff"/><stop offset="0.1840" stop-color="#ffffff"/><stop offset="0.1859" stop-color="#ffffff"/><stop offset="0.1879" stop-color="#ffffff"/><stop offset="0.1898" stop-color="#ffffff"/><stop offset="0.1918" stop-color="#ffffff"/><stop offset="0.1937" stop-color="#ffffff"/><stop offset="0.1957" stop-color="#ffffff"/><stop offset="0.1977" stop-color="#ffffff"/><stop offset="0.1996" stop-color="#ffffff"/><stop offset="0.2016" stop-color="#ffffff"/><stop offset="0.2035" stop-color="#ffffff"/><stop offset="0.2055" stop-color="#ffffff"/><stop offset="0.2074" stop-color="#ffffff"/><stop offset="0.2094" stop-color="#ffffff"/><stop offset="0.2114" stop-color="#ffffff"/><stop offset="0.2133" stop-color="#ffffff"/><stop offset="0.2153" stop-color="#ffffff"/><stop offset="0.2172" stop-color="#ffffff"/><stop offset="0.2192" stop-color="#ffffff"/><stop offset="0.2211" stop-color="#ffffff"/><stop offset="0.2231" stop-color="#ffffff"/><stop offset="0.2250" stop-color="#ffffff"/><stop offset="0.2270" stop-color="#ffffff"/><stop offset="0.2290" stop-color="#ffffff"/><stop offset="0.2309" stop-color="#ffffff"/><stop offset="0.2329" stop-color="#ffffff"/><stop offset="0.2348" stop-color="#ffffff"/><stop offset="0.2368" stop-color="#ffffff"/><stop offset="0.2387" stop-color="#ffffff"/><stop offset="0.2407" stop-color="#fbfbff"/><stop offset="0.2427" stop-color="#f8f8ff"/><stop offset="0.2446" stop-color="#f4f4ff"/><stop offset="0.2466" stop-color="#f0f0ff"/><stop offset="0.2485" stop-color="#ececff"/><stop offset="0.2505" stop-color="#e9e9ff"/><stop offset="0.2524" stop-color="#e5e5ff"/><stop offset="0.2544" stop-color="#e2e2ff"/><stop offset="0.2564" stop-color="#ddddff"/><stop offset="0.2583" stop-color="#d8d8ff"/><stop offset="0.2603" stop-color="#d3d3ff"/><stop offset="0.2622" stop-color="#cfcfff"/><stop offset="0.2642" stop-color="#cacaff"/><stop offset="0.2661" stop-color="#c6c6ff"/><stop offset="0.2681" stop-color="#c3c3ff"/><stop offset="0.2701" stop-color="#bfbfff"/><stop offset="0.2720" stop-color="#bbbbff"/><stop offset="0.2740" stop-color="#b8b8ff"/><stop offset="0.2759" stop-color="#b5b5ff"/><stop offset="0.2779" stop-color="#c8c8ff"/><stop offset="0.2798" stop-color="#d2d2ff"/><stop offset="0.2818" stop-color="#d2d2ff"/><stop offset="0.2838" stop-color="#d2d2ff"/><stop offset="0.2857" stop-color="#c9c9ff"/><stop offset="0.2877" stop-color="#bebeff"/><stop offset="0.2896" stop-color="#b8b8ff"/><stop offset="0.2916" stop-color="#aaaaff"/><stop offset="0.2935" stop-color="#aaaaff"/><stop offset="0.2955" stop-color="#8d8dff"/><stop offset="0.2975" stop-color="#8d8dff"/><stop offset="0.2994" stop-color="#8d8dff"/><stop offset="0.3014" stop-color="#7979ff"/><stop offset="0.3033" stop-color="#4848ff"/><stop offset="0.3053" stop-color="#1e1eff"/><stop offset="0.3072" stop-color="#1414ff"/><stop offset="0.3092" stop-color="#0a0aff"/><stop offset="0.3112" stop-color="#0000ff"/><stop offset="0.3131" stop-color="#0005fa"/><stop offset="0.3151" stop-color="#000af5"/><stop offset="0.3170" stop-color="#000ff0"/><stop offset="0.3190" stop-color="#0015ea"/><stop offset="0.3209" stop-color="#001de2"/><stop offset="0.3229" stop-color="#0025da"/><stop offset="0.3249" stop-color="#0031ce"/><stop offset="0.3268" stop-color="#0041be"/><stop offset="0.3288" stop-color="#004eb1"/><stop offset="0.3307" stop-color="#0059a6"/><stop offset="0.3327" stop-color="#00659a"/><stop offset="0.3346" stop-color="#00708f"/><stop offset="0.3366" stop-color="#007b84"/><stop offset="0.3386" stop-color="#008679"/><stop offset="0.3405" stop-color="#008f70"/><stop offset="0.3425" stop-color="#009966"/><stop offset="0.3444" stop-color="#00a25d"/><stop offset="0.3464" stop-color="#00ac53"/><stop offset="0.3483" stop-color="#00b748"/><stop offset="0.3503" stop-color="#00c53a"/><stop offset="0.3523" stop-color="#00d32c"/><stop offset="0.3542" stop-color="#00e21d"/><stop offset="0.3562" stop-color="#00f00f"/><stop offset="0.3581" stop-color="#00fe01"/><stop offset="0.3601" stop-color="#06ff00"/><stop offset="0.3620" stop-color="#0dff00"/><stop offset="0.3640" stop-color="#14ff00"/><stop offset="0.3659" stop-color="#1aff00"/><stop offset="0.3679" stop-color="#21ff00"/><stop offset="0.3699" stop-color="#28ff00"/><stop offset="0.3718" stop-color="#2fff00"/><stop offset="0.3738" stop-color="#35ff00"/><stop offset="0.3757" stop-color="#3cff00"/><stop offset="0.3777" stop-color="#43ff00"/><stop offset="0.3796" stop-color="#49ff00"/><stop offset="0.3816" stop-color="#50ff00"/><stop offset="0.3836" stop-color="#57ff00"/><stop offset="0.3855" stop-color="#5dff00"/><stop offset="0.3875" stop-color="#64ff00"/><stop offset="0.3894" stop-color="#6eff00"/><stop offset="0.3914" stop-color="#78ff00"/><stop offset="0.3933" stop-color="#83ff00"/><stop offset="0.3953" stop-color="#8eff00"/><stop offset="0.3973" stop-color="#98ff00"/><stop offset="0.3992" stop-color="#a3ff00"/><stop offset="0.4012" stop-color="#aeff00"/><stop offset="0.4031" stop-color="#b8ff00"/><stop offset="0.4051" stop-color="#c1ff00"/><stop offset="0.4070" stop-color="#c9ff00"/><stop offset="0.4090" stop-color="#d2ff00"/><stop offset="0.4110" stop-color="#daff00"/><stop offset="0.4129" stop-color="#e3ff00"/><stop offset="0.4149" stop-color="#ebff00"/><stop offset="0.4168" stop-color="#f4ff00"/><stop offset="0.4188" stop-color="#fcff00"/><stop offset="0.4207" stop-color="#fffc00"/><stop offset="0.4227" stop-color="#fff700"/><stop offset="0.4247" stop-color="#fff200"/><stop offset="0.4266" stop-color="#ffed00"/><stop offset="0.4286" stop-color="#ffe800"/><stop offset="0.4305" stop-color="#ffe300"/><stop offset="0.4325" stop-color="#ffde00"/><stop offset="0.4344" stop-color="#ffda00"/><stop offset="0.4364" stop-color="#ffd500"/><stop offset="0.4384" stop-color="#ffd200"/><stop offset="0.4403" stop-color="#ffcf00"/><stop offset="0.4423" stop-color="#ffcc00"/><stop offset="0.4442" stop-color="#ffc900"/><stop offset="0.4462" stop-color="#ffc600"/><stop offset="0.4481" stop-color="#ffc300"/><stop offset="0.4501" stop-color="#ffc000"/><stop offset="0.4521" stop-color="#ffbd00"/><stop offset="0.4540" stop-color="#ffba00"/><stop offset="0.4560" stop-color="#ffb700"/><stop offset="0.4579" stop-color="#ffb600"/><stop offset="0.4599" stop-color="#ffb600"/><stop offset="0.4618" stop-color="#ffb500"/><stop offset="0.4638" stop-color="#ffb400"/><stop offset="0.4658" stop-color="#ffb300"/><stop offset="0.4677" stop-color="#ffb200"/><stop offset="0.4697" stop-color="#ffb100"/><stop offset="0.4716" stop-color="#ffb100"/><stop offset="0.4736" stop-color="#ffb000"/><stop offset="0.4755" stop-color="#ffaf00"/><stop offset="0.4775" stop-color="#ffae00"/><stop offset="0.4795" stop-color="#ffad00"/><stop offset="0.4814" stop-color="#ffac00"/><stop offset="0.4834" stop-color="#ffac00"/><stop offset="0.4853" stop-color="#ffab00"/><stop offset="0.4873" stop-color="#ffaa00"/><stop offset="0.4892" stop-color="#ffa900"/><stop offset="0.4912" stop-color="#ffa800"/><stop offset="0.4932" stop-color="#ffa900"/><stop offset="0.4951" stop-color="#ffaa00"/><stop offset="0.4971" stop-color="#ffab00"/><stop offset="0.4990" stop-color="#ffac00"/><stop offset="0.5010" stop-color="#ffad00"/><stop offset="0.5029" stop-color="#ffae00"/><stop offset="0.5049" stop-color="#ffaf00"/><stop offset="0.5068" stop-color="#ffb000"/><stop offset="0.5088" stop-color="#ffb100"/><stop offset="0.5108" stop-color="#ffb200"/><stop offset="0.5127" stop-color="#ffb300"/><stop offset="0.5147" stop-color="#ffb400"/><stop offset="0.5166" stop-color="#ffb500"/><stop offset="0.5186" stop-color="#ffb600"/><stop offset="0.5205" stop-color="#ffb700"/><stop offset="0.5225" stop-color="#ffb800"/><stop offset="0.5245" stop-color="#ffbb00"/><stop offset="0.5264" stop-color="#ffbe00"/><stop offset="0.5284" stop-color="#ffc200"/><stop offset="0.5303" stop-color="#ffc500"/><stop offset="0.5323" stop-color="#ffc900"/><stop offset="0.5342" stop-color="#ffcc00"/><stop offset="0.5362" stop-color="#ffcf00"/><stop offset="0.5382" stop-color="#ffd300"/><stop offset="0.5401" stop-color="#ffd600"/><stop offset="0.5421" stop-color="#ffda00"/><stop offset="0.5440" stop-color="#ffdf00"/><stop offset="0.5460" stop-color="#ffe300"/><stop offset="0.5479" stop-color="#ffe800"/><stop offset="0.5499" stop-color="#ffec00"/><stop offset="0.5519" stop-color="#fff100"/><stop offset="0.5538" stop-color="#fff500"/><stop offset="0.5558" stop-color="#fff900"/><stop offset="0.5577" stop-color="#fffe00"/><stop offset="0.5597" stop-color="#f8ff00"/><stop offset="0.5616" stop-color="#efff00"/><stop offset="0.5636" stop-color="#e6ff00"/><stop offset="0.5656" stop-color="#dcff00"/><stop offset="0.5675" stop-color="#d3ff00"/><stop offset="0.5695" stop-color="#caff00"/><stop offset="0.5714" stop-color="#c1ff00"/><stop offset="0.5734" stop-color="#b8ff00"/><stop offset="0.5753" stop-color="#afff00"/><stop offset="0.5773" stop-color="#a5ff00"/><stop offset="0.5793" stop-color="#9cff00"/><stop offset="0.5812" stop-color="#93ff00"/><stop offset="0.5832" stop-color="#89ff00"/><stop offset="0.5851" stop-color="#80ff00"/><stop offset="0.5871" stop-color="#76ff00"/><stop offset="0.5890" stop-color="#6cff00"/><stop offset="0.5910" stop-color="#62ff00"/><stop offset="0.5930" stop-color="#58ff00"/><stop offset="0.5949" stop-color="#4eff00"/><stop offset="0.5969" stop-color="#44ff00"/><stop offset="0.5988" stop-color="#3bff00"/><stop offset="0.6008" stop-color="#31ff00"/><stop offset="0.6027" stop-color="#27ff00"/><stop offset="0.6047" stop-color="#1dff00"/><stop offset="0.6067" stop-color="#13ff00"/><stop offset="0.6086" stop-color="#09ff00"/><stop offset="0.6106" stop-color="#00ff00"/><stop offset="0.6125" stop-color="#00f906"/><stop offset="0.6145" stop-color="#00f20d"/><stop offset="0.6164" stop-color="#00ec13"/><stop offset="0.6184" stop-color="#00e619"/><stop offset="0.6204" stop-color="#00e01f"/><stop offset="0.6223" stop-color="#00da25"/><stop offset="0.6243" stop-color="#00d42b"/><stop offset="0.6262" stop-color="#00ce31"/><stop offset="0.6282" stop-color="#00c837"/><stop offset="0.6301" stop-color="#00c23d"/><stop offset="0.6321" stop-color="#00bd42"/><stop offset="0.6341" stop-color="#00b748"/><stop offset="0.6360" stop-color="#00b14e"/><stop offset="0.6380" stop-color="#00ab54"/><stop offset="0.6399" stop-color="#00a25d"/><stop offset="0.6419" stop-color="#009966"/><stop offset="0.6438" stop-color="#00916e"/><stop offset="0.6458" stop-color="#008877"/><stop offset="0.6477" stop-color="#00807f"/><stop offset="0.6497" stop-color="#006c93"/><stop offset="0.6517" stop-color="#0057a8"/><stop offset="0.6536" stop-color="#0043bc"/><stop offset="0.6556" stop-color="#0031ce"/><stop offset="0.6575" stop-color="#0025da"/><stop offset="0.6595" stop-color="#0019e6"/><stop offset="0.6614" stop-color="#000df2"/><stop offset="0.6634" stop-color="#0005fa"/><stop offset="0.6654" stop-color="#0004fb"/><stop offset="0.6673" stop-color="#0002fd"/><stop offset="0.6693" stop-color="#0001fe"/><stop offset="0.6712" stop-color="#0000ff"/><stop offset="0.6732" stop-color="#1c1cff"/><stop offset="0.6751" stop-color="#4040ff"/><stop offset="0.6771" stop-color="#6262ff"/><stop offset="0.6791" stop-color="#8484ff"/><stop offset="0.6810" stop-color="#9292ff"/><stop offset="0.6830" stop-color="#9a9aff"/><stop offset="0.6849" stop-color="#9c9cff"/><stop offset="0.6869" stop-color="#9f9fff"/><stop offset="0.6888" stop-color="#b5b5ff"/><stop offset="0.6908" stop-color="#dadaff"/><stop offset="0.6928" stop-color="#dbdbff"/><stop offset="0.6947" stop-color="#dbdbff"/><stop offset="0.6967" stop-color="#dcdcff"/><stop offset="0.6986" stop-color="#dcdcff"/><stop offset="0.7006" stop-color="#dcdcff"/><stop offset="0.7025" stop-color="#bcbcff"/><stop offset="0.7045" stop-color="#b4b4ff"/><stop offset="0.7065" stop-color="#b4b4ff"/><stop offset="0.7084" stop-color="#b4b4ff"/><stop offset="0.7104" stop-color="#b4b4ff"/><stop offset="0.7123" stop-color="#b4b4ff"/><stop offset="0.7143" stop-color="#b4b4ff"/><stop offset="0.7162" stop-color="#c4c4ff"/><stop offset="0.7182" stop-color="#d0d0ff"/><stop offset="0.7202" stop-color="#d1d1ff"/><stop offset="0.7221" stop-color="#d1d1ff"/><stop offset="0.7241" stop-color="#d1d1ff"/><stop offset="0.7260" stop-color="#d2d2ff"/><stop offset="0.7280" stop-color="#d5d5ff"/><stop offset="0.7299" stop-color="#e6e6ff"/><stop offset="0.7319" stop-color="#e7e7ff"/><stop offset="0.7339" stop-color="#e9e9ff"/><stop offset="0.7358" stop-color="#ebebff"/><stop offset="0.7378" stop-color="#efefff"/><stop offset="0.7397" stop-color="#f7f7ff"/><stop offset="0.7417" stop-color="#ffffff"/><stop offset="0.7436" stop-color="#ffffff"/><stop offset="0.7456" stop-color="#ffffff"/><stop offset="0.7476" stop-color="#ffffff"/><stop offset="0.7495" stop-color="#ffffff"/><stop offset="0.7515" stop-color="#ffffff"/><stop offset="0.7534" stop-color="#ffffff"/><stop offset="0.7554" stop-color="#ffffff"/><stop offset="0.7573" stop-color="#ffffff"/><stop offset="0.7593" stop-color="#ffffff"/><stop offset="0.7613" stop-color="#ffffff"/><stop offset="0.7632" stop-color="#ffffff"/><stop offset="0.7652" stop-color="#ffffff"/><stop offset="0.7671" stop-color="#ffffff"/><stop offset="0.7691" stop-color="#ffffff"/><stop offset="0.7710" stop-color="#ffffff"/><stop offset="0.7730" stop-color="#ffffff"/><stop offset="0.7750" stop-color="#ffffff"/><stop offset="0.7769" stop-color="#ffffff"/><stop offset="0.7789" stop-color="#ffffff"/><stop offset="0.7808" stop-color="#ffffff"/><stop offset="0.7828" stop-color="#ffffff"/><stop offset="0.7847" stop-color="#ffffff"/><stop offset="0.7867" stop-color="#ffffff"/><stop offset="0.7886" stop-color="#ffffff"/><stop offset="0.7906" stop-color="#ffffff"/><stop offset="0.7926" stop-color="#ffffff"/><stop offset="0.7945" stop-color="#ffffff"/><stop offset="0.7965" stop-color="#ffffff"/><stop offset="0.7984" stop-color="#ffffff"/><stop offset="0.8004" stop-color="#ffffff"/><stop offset="0.8023" stop-color="#ffffff"/><stop offset="0.8043" stop-color="#ffffff"/><stop offset="0.8063" stop-color="#ffffff"/><stop offset="0.8082" stop-color="#ffffff"/><stop offset="0.8102" stop-color="#ffffff"/><stop offset="0.8121" stop-color="#ffffff"/><stop offset="0.8141" stop-color="#ffffff"/><stop offset="0.8160" stop-color="#ffffff"/><stop offset="0.8180" stop-color="#ffffff"/><stop offset="0.8200" stop-color="#ffffff"/><stop offset="0.8219" stop-color="#ffffff"/><stop offset="0.8239" stop-color="#ffffff"/><stop offset="0.8258" stop-color="#ffffff"/><stop offset="0.8278" stop-color="#ffffff"/><stop offset="0.8297" stop-color="#ffffff"/><stop offset="0.8317" stop-color="#ffffff"/><stop offset="0.8337" stop-color="#ffffff"/><stop offset="0.8356" stop-color="#ffffff"/><stop offset="0.8376" stop-color="#ffffff"/><stop offset="0.8395" stop-color="#ffffff"/><stop offset="0.8415" stop-color="#ffffff"/><stop offset="0.8434" stop-color="#ffffff"/><stop offset="0.8454" stop-color="#ffffff"/><stop offset="0.8474" stop-color="#ffffff"/><stop offset="0.8493" stop-color="#ffffff"/><stop offset="0.8513" stop-color="#ffffff"/><stop offset="0.8532" stop-color="#ffffff"/><stop offset="0.8552" stop-color="#ffffff"/><stop offset="0.8571" stop-color="#ffffff"/><stop offset="0.8591" stop-color="#ffffff"/><stop offset="0.8611" stop-color="#ffffff"/><stop offset="0.8630" stop-color="#ffffff"/><stop offset="0.8650" stop-color="#ffffff"/><stop offset="0.8669" stop-color="#ffffff"/><stop offset="0.8689" stop-color="#ffffff"/><stop offset="0.8708" stop-color="#ffffff"/><stop offset="0.8728" stop-color="#ffffff"/><stop offset="0.8748" stop-color="#ffffff"/><stop offset="0.8767" stop-color="#ffffff"/><stop offset="0.8787" stop-color="#ffffff"/><stop offset="0.8806" stop-color="#ffffff"/><stop offset="0.8826" stop-color="#ffffff"/><stop offset="0.8845" stop-color="#ffffff"/><stop offset="0.8865" stop-color="#ffffff"/><stop offset="0.8885" stop-color="#ffffff"/><stop offset="0.8904" stop-color="#ffffff"/><stop offset="0.8924" stop-color="#ffffff"/><stop offset="0.8943" stop-color="#ffffff"/><stop offset="0.8963" stop-color="#ffffff"/><stop offset="0.8982" stop-color="#ffffff"/><stop offset="0.9002" stop-color="#ffffff"/><stop offset="0.9022" stop-color="#ffffff"/><stop offset="0.9041" stop-color="#ffffff"/><stop offset="0.9061" stop-color="#ffffff"/><stop offset="0.9080" stop-color="#ffffff"/><stop offset="0.9100" stop-color="#ffffff"/><stop offset="0.9119" stop-color="#ffffff"/><stop offset="0.9139" stop-color="#ffffff"/><stop offset="0.9159" stop-color="#ffffff"/><stop offset="0.9178" stop-color="#ffffff"/><stop offset="0.9198" stop-color="#ffffff"/><stop offset="0.9217" stop-color="#ffffff"/><stop offset="0.9237" stop-color="#ffffff"/><stop offset="0.9256" stop-color="#ffffff"/><stop offset="0.9276" stop-color="#ffffff"/><stop offset="0.9295" stop-color="#ffffff"/><stop offset="0.9315" stop-color="#ffffff"/><stop offset="0.9335" stop-color="#ffffff"/><stop offset="0.9354" stop-color="#ffffff"/><stop offset="0.9374" stop-color="#ffffff"/><stop offset="0.9393" stop-color="#ffffff"/><stop offset="0.9413" stop-color="#ffffff"/><stop offset="0.9432" stop-color="#ffffff"/><stop offset="0.9452" stop-color="#ffffff"/><stop offset="0.9472" stop-color="#ffffff"/><stop offset="0.9491" stop-color="#ffffff"/><stop offset="0.9511" stop-color="#ffffff"/><stop offset="0.9530" stop-color="#ffffff"/><stop offset="0.9550" stop-color="#ffffff"/><stop offset="0.9569" stop-color="#ffffff"/><stop offset="0.9589" stop-color="#ffffff"/><stop offset="0.9609" stop-color="#ffffff"/><stop offset="0.9628" stop-color="#ffffff"/><stop offset="0.9648" stop-color="#ffffff"/><stop offset="0.9667" stop-color="#ffffff"/><stop offset="0.9687" stop-color="#ffffff"/><stop offset="0.9706" stop-color="#ffffff"/><stop offset="0.9726" stop-color="#ffffff"/><stop offset="0.9746" stop-color="#ffffff"/><stop offset="0.9765" stop-color="#ffffff"/><stop offset="0.9785" stop-color="#ffffff"/><stop offset="0.9804" stop-color="#ffffff"/><stop offset="0.9824" stop-color="#ffffff"/><stop offset="0.9843" stop-color="#ffffff"/><stop offset="0.9863" stop-color="#ffffff"/><stop offset="0.9883" stop-color="#ffffff"/><stop offset="0.9902" stop-color="#ffffff"/><stop offset="0.9922" stop-color="#ffffff"/><stop offset="0.9941" stop-color="#ffffff"/><stop offset="0.9961" stop-color="#ffffff"/><stop offset="0.9980" stop-color="#ffffff"/><stop offset="1.0000" stop-color="#ffffff"/></linearGradient>
<filter id="b1" x="-50%" y="-50%" width="200%" height="200%"><feGaussianBlur stdDeviation="1"/></filter>
<filter id="b2" x="-50%" y="-50%" width="200%" height="200%"><feGaussianBlur stdDeviation="2"/></filter>
<filter id="b4" x="-50%" y="-50%" width="200%" height="200%"><feGaussianBlur stdDeviation="4"/></filter>
<filter id="b05" x="-50%" y="-50%" width="200%" height="200%"><feGaussianBlur stdDeviation="0.6"/></filter>
<filter id="b10" x="-50%" y="-50%" width="200%" height="200%"><feGaussianBlur stdDeviation="10"/></filter>
<filter id="b15" x="-50%" y="-50%" width="200%" height="200%"><feGaussianBlur stdDeviation="1.5"/></filter>
<filter id="b25" x="-50%" y="-50%" width="200%" height="200%"><feGaussianBlur stdDeviation="2.5"/></filter>
<filter id="b3" x="-50%" y="-50%" width="200%" height="200%"><feGaussianBlur stdDeviation="3"/></filter>
<filter id="b6" x="-50%" y="-50%" width="200%" height="200%"><feGaussianBlur stdDeviation="6"/></filter>
<filter id="b8" x="-50%" y="-50%" width="200%" height="200%"><feGaussianBlur stdDeviation="8"/></filter>
<clipPath id="clip0"><rect x="114.4" y="77.3" width="284.6" height="508.4"/></clipPath>
<clipPath id="clip1"><rect x="545.6" y="77.3" width="284.6" height="508.4"/></clipPath>
<clipPath id="clip2"><rect x="958.7" y="77.3" width="284.6" height="508.4"/></clipPath>
<clipPath id="clip3"><rect x="1372.0" y="77.3" width="284.6" height="508.4"/></clipPath></defs>
<rect width="1750" height="670" fill="#fff"/>
<g clip-path="url(#clip0)">
<rect x="114.4" y="77.3" width="284.6" height="508.4" fill="url(#band1)"/>
<rect x="153.5" y="276.5" width="52.0" height="104.0" rx="22.1" ry="26.0" fill="url(#lobeg0)" filter="url(#b25)"/>
<rect x="309.0" y="278.0" width="50.0" height="102.0" rx="21.2" ry="25.5" fill="url(#lobeg0)" filter="url(#b25)"/>
<ellipse cx="170.0" cy="329.5" rx="10" ry="30" fill="#ff8000" opacity="0.30" filter="url(#b6)"/>
<ellipse cx="344.0" cy="331.5" rx="10" ry="30" fill="#ff8000" opacity="0.30" filter="url(#b6)"/>
<rect x="207.0" y="281.5" width="100.0" height="13" fill="#fff000" opacity="0.45" filter="url(#b25)"/>
<rect x="207.0" y="360.5" width="100.0" height="13" fill="#fff000" opacity="0.45" filter="url(#b25)"/>
<ellipse cx="231.0" cy="327.5" rx="5" ry="40" fill="#ff8500" opacity="0.4" filter="url(#b2)"/>
<ellipse cx="281.0" cy="327.5" rx="4" ry="42" fill="#ff8500" opacity="0.3" filter="url(#b2)"/>
<ellipse cx="280.0" cy="328.5" rx="1.6" ry="9" fill="#ff5200" filter="url(#b1)"/>
<ellipse cx="292.0" cy="328.5" rx="8" ry="6" fill="#ff8500" opacity="0.5" filter="url(#b2)"/>
<path d="M228.0 284 Q 234.0 274 243.0 262" stroke="#e0ff00" stroke-width="2" fill="none" opacity="0.7" filter="url(#b1)"/>
<path d="M228.0 374 Q 230.0 382 234.0 392" stroke="#fff500" stroke-width="2.5" fill="none" opacity="0.8" filter="url(#b1)"/>
<path d="M223.0 252.0 L224.0 232.0 L228.0 219.0 L236.0 214.0 L246.0 212.0 L253.0 216.0 L258.0 209.5 L262.0 215.0 L268.0 213.0 L276.0 201.5 L280.0 203.0 L284.0 220.0 L286.0 252.0 Z" fill="url(#wispu)" filter="url(#b15)"/>
<path d="M228.0 243 Q 229.0 222 238.0 216" stroke="#66ff00" stroke-width="2" fill="none" opacity="0.55" filter="url(#b1)"/>
<path d="M247.0 214 Q 252.0 222 253.0 232" stroke="#66ff00" stroke-width="2" fill="none" opacity="0.55" filter="url(#b1)"/>
<path d="M246.0 241 Q 236.0 244 228.0 242" stroke="#66ff00" stroke-width="2" fill="none" opacity="0.55" filter="url(#b1)"/>
<path d="M258.5 211 L 259.0 238" stroke="#66ff00" stroke-width="2" fill="none" opacity="0.55" filter="url(#b1)"/>
<path d="M259.5 237 Q 268.0 218 277.0 204" stroke="#66ff00" stroke-width="2" fill="none" opacity="0.55" filter="url(#b1)"/>
<path d="M277.0 204 Q 283.0 222 284.0 244" stroke="#66ff00" stroke-width="2" fill="none" opacity="0.55" filter="url(#b1)"/>
<circle cx="232.0" cy="228.0" r="3.0" fill="#52ff00" opacity="0.6" filter="url(#b1)"/>
<circle cx="246.0" cy="236.0" r="2.5" fill="#00d629" opacity="0.6" filter="url(#b1)"/>
<circle cx="270.0" cy="222.0" r="3.0" fill="#3dff00" opacity="0.6" filter="url(#b1)"/>
<circle cx="264.0" cy="232.0" r="2.5" fill="#00e01f" opacity="0.6" filter="url(#b1)"/>
<circle cx="240.0" cy="222.0" r="2.0" fill="#3dff00" opacity="0.6" filter="url(#b1)"/>
<circle cx="276.0" cy="214.0" r="2.0" fill="#52ff00" opacity="0.6" filter="url(#b1)"/>
<ellipse cx="240.0" cy="229" rx="7" ry="6" fill="#00d629" opacity="0.5" filter="url(#b2)"/>
<path d="M262.8 157.3 L256.0 166.0 L250.0 170.0 L246.0 171.5 L244.0 176.0 L243.0 185.0 L242.0 195.0 L241.5 201.0 L282.5 201.0 L282.0 195.0 L280.5 185.0 L278.0 175.0 L273.0 166.0 L267.0 160.0 Z" fill="#7575ff" opacity="0.92" filter="url(#b1)"/>
<path d="M268.0 162.0 L273.0 168.0 L278.0 178.0 L281.0 190.0 L282.0 200.0 L270.0 200.0 L268.0 186.0 Z" fill="#4c4cff" opacity="0.7" filter="url(#b1)"/>
<path d="M262.8 158.5 L 257.0 167.0 L 249.5 171.0 L 245.0 173.0" stroke="#3333ff" stroke-width="2.2" fill="none" opacity="0.7" filter="url(#b1)"/>
<path d="M265.5 163.0 L 266.5 198.0" stroke="#3d3dff" stroke-width="3" fill="none" opacity="0.55" filter="url(#b15)"/>
<rect x="241.5" y="188.0" width="41" height="14" fill="url(#bbase)" filter="url(#b15)"/>
<path d="M221.5 402.0 L222.0 440.0 L226.0 450.0 L232.0 454.0 L239.0 455.0 L246.0 452.0 L252.0 448.0 L257.0 447.0 L259.0 456.0 L261.0 448.0 L270.0 447.0 L282.0 447.0 L286.0 444.0 L287.5 430.0 L287.5 402.0 Z" fill="url(#wispg)" filter="url(#b15)"/>
<path d="M259.4 439 L 259.4 456" stroke="#66ff00" stroke-width="2" fill="none" opacity="0.55" filter="url(#b1)"/>
<path d="M262.0 426 Q 266.0 440 274.0 440 Q 282.0 438 284.0 418" stroke="#66ff00" stroke-width="2" fill="none" opacity="0.55" filter="url(#b1)"/>
<path d="M226.0 415 Q 228.0 440 236.0 449 Q 244.0 452 252.0 446" stroke="#66ff00" stroke-width="2" fill="none" opacity="0.55" filter="url(#b1)"/>
<path d="M236.0 420 Q 242.0 432 248.0 440" stroke="#66ff00" stroke-width="2" fill="none" opacity="0.55" filter="url(#b1)"/>
<circle cx="230.0" cy="420.0" r="3.0" fill="#47ff00" opacity="0.6" filter="url(#b1)"/>
<circle cx="244.0" cy="432.0" r="2.5" fill="#00d629" opacity="0.6" filter="url(#b1)"/>
<circle cx="270.0" cy="425.0" r="3.0" fill="#3dff00" opacity="0.6" filter="url(#b1)"/>
<circle cx="250.0" cy="444.0" r="2.5" fill="#00e01f" opacity="0.6" filter="url(#b1)"/>
<circle cx="236.0" cy="446.0" r="2.0" fill="#33ff00" opacity="0.6" filter="url(#b1)"/>
<circle cx="278.0" cy="436.0" r="2.0" fill="#52ff00" opacity="0.6" filter="url(#b1)"/>
<path d="M229.0 380 Q 231.0 388 233.0 396" stroke="#ffcc00" stroke-width="2" fill="none" opacity="0.7" filter="url(#b1)"/>
<path d="M237.0 456.0 L238.0 480.0 L240.0 500.0 L244.0 511.0 L250.0 513.5 L258.0 511.5 L266.0 508.0 L276.0 503.0 L282.0 495.0 L285.0 480.0 L285.5 456.0 Z" fill="#adadff" opacity="0.75" filter="url(#b15)"/>
<path d="M239.5 458 C 239.0 480 241.0 500 246.0 511" stroke="#5252ff" stroke-width="3" fill="none" opacity="0.75" filter="url(#b1)"/>
<path d="M283.5 458 C 284.0 480 282.0 495 276.0 503" stroke="#6666ff" stroke-width="2.5" fill="none" opacity="0.7" filter="url(#b1)"/>
<path d="M262.0 458 L 263.0 500" stroke="#8585ff" stroke-width="2" fill="none" opacity="0.5" filter="url(#b1)"/>
<ellipse cx="249.5" cy="507.5" rx="6" ry="3.2" fill="#2929ff" filter="url(#b1)"/>
</g>
<rect x="113.2" y="76.1" width="287.0" height="510.8" fill="none" stroke="#000" stroke-width="2.4"/>
<line x1="144.1" y1="585.7" x2="144.1" y2="583.5" stroke="#000" stroke-width="1.3"/>
<text x="144.6" y="620.6" text-anchor="middle" font-family="'Liberation Sans', Arial, Helvetica, sans-serif" stroke="#000" stroke-width="0.3" font-size="25">-0.2</text>
<line x1="200.3" y1="585.7" x2="200.3" y2="583.5" stroke="#000" stroke-width="1.3"/>
<text x="200.8" y="620.6" text-anchor="middle" font-family="'Liberation Sans', Arial, Helvetica, sans-serif" stroke="#000" stroke-width="0.3" font-size="25">-0.1</text>
<line x1="256.5" y1="585.7" x2="256.5" y2="583.5" stroke="#000" stroke-width="1.3"/>
<text x="260.4" y="620.6" text-anchor="middle" font-family="'Liberation Sans', Arial, Helvetica, sans-serif" stroke="#000" stroke-width="0.3" font-size="25">0</text>
<line x1="312.7" y1="585.7" x2="312.7" y2="583.5" stroke="#000" stroke-width="1.3"/>
<text x="316.6" y="620.6" text-anchor="middle" font-family="'Liberation Sans', Arial, Helvetica, sans-serif" stroke="#000" stroke-width="0.3" font-size="25">0.1</text>
<line x1="368.9" y1="585.7" x2="368.9" y2="583.5" stroke="#000" stroke-width="1.3"/>
<text x="372.8" y="620.6" text-anchor="middle" font-family="'Liberation Sans', Arial, Helvetica, sans-serif" stroke="#000" stroke-width="0.3" font-size="25">0.2</text>
<line x1="114.4" y1="529.8" x2="116.6" y2="529.8" stroke="#000" stroke-width="1.3"/>
<line x1="114.4" y1="463.4" x2="116.6" y2="463.4" stroke="#000" stroke-width="1.3"/>
<line x1="114.4" y1="397.0" x2="116.6" y2="397.0" stroke="#000" stroke-width="1.3"/>
<line x1="114.4" y1="330.6" x2="116.6" y2="330.6" stroke="#000" stroke-width="1.3"/>
<line x1="114.4" y1="264.2" x2="116.6" y2="264.2" stroke="#000" stroke-width="1.3"/>
<line x1="114.4" y1="197.8" x2="116.6" y2="197.8" stroke="#000" stroke-width="1.3"/>
<line x1="114.4" y1="131.4" x2="116.6" y2="131.4" stroke="#000" stroke-width="1.3"/>
<text x="257.0" y="658.6" text-anchor="middle" font-family="'Liberation Sans', Arial, Helvetica, sans-serif" stroke="#000" stroke-width="0.3" font-size="25">x, kpc</text>
<rect x="406.2" y="75.2" width="16.0" height="512.6" fill="url(#cbg)"/>
<rect x="406.9" y="75.9" width="14.6" height="511.2" fill="none" stroke="#000" stroke-width="1.5"/>
<g clip-path="url(#clip1)">
<ellipse cx="685.5" cy="331.0" rx="88" ry="110" fill="#f3f3ff" filter="url(#b8)"/>
<ellipse cx="685.5" cy="331.0" rx="70" ry="95" fill="#ebebff" opacity="0.8" filter="url(#b10)"/>
<path d="M686 232 Q 700 290 728 330 Q 700 370 686 428 Q 672 370 644 330 Q 672 290 686 232 Z" fill="#ccccff" filter="url(#b4)"/>
<path d="M686 245 Q 696 295 714 330 Q 696 365 686 415 Q 676 365 658 330 Q 676 295 686 245 Z" fill="#a8a8ff" opacity="0.9" filter="url(#b3)"/>
<path d="M680.5 170 L 704.5 170 L 701.5 230 L 696.5 280 L 696.5 380 L 698.5 430 L 706.5 508 L 675.5 508 L 678.5 430 L 680.5 380 L 679.5 280 L 679.5 230 Z" fill="#dcdcff" opacity="0.85" filter="url(#b2)"/>
<line x1="682.0" y1="175.0" x2="684.0" y2="240.0" stroke="#b8b8ff" stroke-width="4.0" opacity="0.45" filter="url(#b2)"/>
<line x1="694.0" y1="176.0" x2="697.0" y2="235.0" stroke="#bdbdff" stroke-width="4.0" opacity="0.45" filter="url(#b2)"/>
<line x1="688.0" y1="180.0" x2="689.0" y2="280.0" stroke="#c2c2ff" stroke-width="3.0" opacity="0.45" filter="url(#b2)"/>
<line x1="683.0" y1="420.0" x2="680.0" y2="500.0" stroke="#b8b8ff" stroke-width="4.0" opacity="0.45" filter="url(#b2)"/>
<line x1="694.0" y1="420.0" x2="698.0" y2="495.0" stroke="#bdbdff" stroke-width="4.0" opacity="0.45" filter="url(#b2)"/>
<line x1="688.0" y1="430.0" x2="690.0" y2="505.0" stroke="#c2c2ff" stroke-width="3.0" opacity="0.45" filter="url(#b2)"/>
<line x1="684.0" y1="280.0" x2="686.0" y2="300.0" stroke="#a3a3ff" stroke-width="5.0" opacity="0.45" filter="url(#b2)"/>
<line x1="684.0" y1="360.0" x2="686.0" y2="380.0" stroke="#a3a3ff" stroke-width="5.0" opacity="0.45" filter="url(#b2)"/>
<ellipse cx="685.5" cy="330.0" rx="9" ry="85" fill="#a8a8ff" opacity="0.8" filter="url(#b3)"/>
<rect x="682.5" y="172.0" width="15" height="8" fill="#a3a3ff" opacity="0.7" filter="url(#b2)"/>
<ellipse cx="686.0" cy="247.0" rx="7.0" ry="3.0" fill="#7070ff" opacity="0.85" filter="url(#b1)"/>
<ellipse cx="678.0" cy="245.0" rx="3.0" ry="2.0" fill="#8585ff" opacity="0.85" filter="url(#b1)"/>
<ellipse cx="686.0" cy="271.0" rx="5.0" ry="3.0" fill="#7a7aff" opacity="0.85" filter="url(#b1)"/>
<ellipse cx="686.0" cy="387.0" rx="6.0" ry="3.5" fill="#6666ff" opacity="0.85" filter="url(#b1)"/>
<ellipse cx="680.0" cy="411.0" rx="4.0" ry="2.0" fill="#7070ff" opacity="0.85" filter="url(#b1)"/>
<ellipse cx="692.0" cy="412.0" rx="3.0" ry="3.0" fill="#7070ff" opacity="0.85" filter="url(#b1)"/>
<ellipse cx="695.0" cy="499.0" rx="9.0" ry="4.0" fill="#7070ff" opacity="0.85" filter="url(#b1)"/>
<ellipse cx="684.0" cy="504.0" rx="6.0" ry="3.0" fill="#8585ff" opacity="0.85" filter="url(#b1)"/>
<ellipse cx="684.5" cy="330.0" rx="30" ry="44" fill="#a3a3ff" opacity="0.8" filter="url(#b4)"/>
<ellipse cx="684.5" cy="330.0" rx="23.5" ry="32.5" fill="#5c5cff" filter="url(#b2)"/>
<ellipse cx="684.0" cy="330.0" rx="20.3" ry="28.6" fill="#0000ff" filter="url(#b1)"/>
<ellipse cx="684.5" cy="329.5" rx="18" ry="22" fill="url(#blobg)" filter="url(#b1)"/>
<path d="M676 329.5 L688 327 L690.5 323 L697 327 L690 330.5 L677 332.5 Z" fill="#ff2900" filter="url(#b1)"/>
<path d="M677.5 335 L689.5 332.5 L689 336 L679 339 Z" fill="#ff2900" filter="url(#b1)"/>
</g>
<rect x="544.4" y="76.1" width="287.0" height="510.8" fill="none" stroke="#000" stroke-width="2.4"/>
<line x1="575.3" y1="585.7" x2="575.3" y2="583.5" stroke="#000" stroke-width="1.3"/>
<text x="575.8" y="620.6" text-anchor="middle" font-family="'Liberation Sans', Arial, Helvetica, sans-serif" stroke="#000" stroke-width="0.3" font-size="25">-0.2</text>
<line x1="631.5" y1="585.7" x2="631.5" y2="583.5" stroke="#000" stroke-width="1.3"/>
<text x="632.0" y="620.6" text-anchor="middle" font-family="'Liberation Sans', Arial, Helvetica, sans-serif" stroke="#000" stroke-width="0.3" font-size="25">-0.1</text>
<line x1="687.7" y1="585.7" x2="687.7" y2="583.5" stroke="#000" stroke-width="1.3"/>
<text x="691.6" y="620.6" text-anchor="middle" font-family="'Liberation Sans', Arial, Helvetica, sans-serif" stroke="#000" stroke-width="0.3" font-size="25">0</text>
<line x1="743.9" y1="585.7" x2="743.9" y2="583.5" stroke="#000" stroke-width="1.3"/>
<text x="747.8" y="620.6" text-anchor="middle" font-family="'Liberation Sans', Arial, Helvetica, sans-serif" stroke="#000" stroke-width="0.3" font-size="25">0.1</text>
<line x1="800.1" y1="585.7" x2="800.1" y2="583.5" stroke="#000" stroke-width="1.3"/>
<text x="804.0" y="620.6" text-anchor="middle" font-family="'Liberation Sans', Arial, Helvetica, sans-serif" stroke="#000" stroke-width="0.3" font-size="25">0.2</text>
<line x1="545.6" y1="529.8" x2="547.8" y2="529.8" stroke="#000" stroke-width="1.3"/>
<line x1="545.6" y1="463.4" x2="547.8" y2="463.4" stroke="#000" stroke-width="1.3"/>
<line x1="545.6" y1="397.0" x2="547.8" y2="397.0" stroke="#000" stroke-width="1.3"/>
<line x1="545.6" y1="330.6" x2="547.8" y2="330.6" stroke="#000" stroke-width="1.3"/>
<line x1="545.6" y1="264.2" x2="547.8" y2="264.2" stroke="#000" stroke-width="1.3"/>
<line x1="545.6" y1="197.8" x2="547.8" y2="197.8" stroke="#000" stroke-width="1.3"/>
<line x1="545.6" y1="131.4" x2="547.8" y2="131.4" stroke="#000" stroke-width="1.3"/>
<text x="688.2" y="658.6" text-anchor="middle" font-family="'Liberation Sans', Arial, Helvetica, sans-serif" stroke="#000" stroke-width="0.3" font-size="25">x, kpc</text>
<rect x="838.0" y="75.2" width="16.0" height="512.6" fill="url(#cbg)"/>
<rect x="838.7" y="75.9" width="14.6" height="511.2" fill="none" stroke="#000" stroke-width="1.5"/>
<g clip-path="url(#clip2)">
<path d="M1095.5 177 L1101 174.5 L1108 172 L1113 169 L1118.5 168.5 L1118.5 174 L1112 176.5 L1105 179 L1097 181 Z" fill="#000af5" filter="url(#b05)"/>
<path d="M1098 176 L1104 174.5 L1106 176.5 L1099 178.5 Z" fill="#00ff00" filter="url(#b05)"/>
<path d="M1108 173 L1114 171 L1116 173 L1110 175 Z" fill="#00708f" filter="url(#b05)"/>
<path d="M1096 188 L1100 185 L1101 192 L1097 202 L1093 200 Z" fill="#8585ff" opacity="0.7" filter="url(#b1)"/>
<path d="M1095.5 213.0 L1097.0 222.0 L1098.0 240.0 L1100.0 260.0 L1102.0 280.0 L1101.0 295.0 L1099.0 310.0 L1098.0 330.0 L1099.0 350.0 L1100.0 370.0 L1100.0 390.0 L1099.0 410.0 L1097.0 428.0 L1098.0 440.0 L1100.0 444.0 L1103.0 446.5 L1108.0 446.5 L1112.0 444.0 L1113.0 440.0 L1114.0 428.0 L1114.0 410.0 L1114.0 390.0 L1114.0 370.0 L1113.5 350.0 L1113.0 330.0 L1113.0 310.0 L1113.5 290.0 L1113.0 270.0 L1112.0 250.0 L1111.0 230.0 L1110.5 213.0 Z" fill="url(#jetg)" filter="url(#b05)"/>
<path d="M1097.5 224 L1099 240 L1100.8 258 L1102.5 276" stroke="#000af5" stroke-width="2.2" fill="none" opacity="0.85" filter="url(#b05)"/>
<path d="M1110.5 222 L1111.2 234" stroke="#0014eb" stroke-width="2" fill="none" opacity="0.8" filter="url(#b05)"/>
<path d="M1112.3 248 L1112.8 262 L1113 274" stroke="#0014eb" stroke-width="1.6" fill="none" opacity="0.8" filter="url(#b05)"/>
<path d="M1099 414 L1098 426 L1100 438" stroke="#0014eb" stroke-width="3" fill="none" filter="url(#b05)"/>
<path d="M1101 300 Q1097.8 330 1100.5 364" stroke="#66ff00" stroke-width="1.5" fill="none" opacity="0.75" filter="url(#b05)"/>
<circle cx="1099.3" cy="312.0" r="1.2" fill="#0033cc" filter="url(#b05)"/>
<circle cx="1098.6" cy="338.0" r="1.2" fill="#0033cc" filter="url(#b05)"/>
<circle cx="1099.4" cy="352.0" r="1.2" fill="#0033cc" filter="url(#b05)"/>
<path d="M1090 502 L1098 497 L1104 493 L1112 494 L1124 493 L1125 498 L1114 501 L1102 503 L1094 505 Z" fill="#0033cc" filter="url(#b05)"/>
<path d="M1096 501 L1104 496.5 L1112 495.5 L1121 495 L1116 499.5 L1104 501.5 Z" fill="#00c23d" filter="url(#b05)"/>
</g>
<rect x="957.5" y="76.1" width="287.0" height="510.8" fill="none" stroke="#000" stroke-width="2.4"/>
<line x1="988.4" y1="585.7" x2="988.4" y2="583.5" stroke="#000" stroke-width="1.3"/>
<text x="988.9" y="620.6" text-anchor="middle" font-family="'Liberation Sans', Arial, Helvetica, sans-serif" stroke="#000" stroke-width="0.3" font-size="25">-0.2</text>
<line x1="1044.6" y1="585.7" x2="1044.6" y2="583.5" stroke="#000" stroke-width="1.3"/>
<text x="1045.1" y="620.6" text-anchor="middle" font-family="'Liberation Sans', Arial, Helvetica, sans-serif" stroke="#000" stroke-width="0.3" font-size="25">-0.1</text>
<line x1="1100.8" y1="585.7" x2="1100.8" y2="583.5" stroke="#000" stroke-width="1.3"/>
<text x="1104.7" y="620.6" text-anchor="middle" font-family="'Liberation Sans', Arial, Helvetica, sans-serif" stroke="#000" stroke-width="0.3" font-size="25">0</text>
<line x1="1157.0" y1="585.7" x2="1157.0" y2="583.5" stroke="#000" stroke-width="1.3"/>
<text x="1160.9" y="620.6" text-anchor="middle" font-family="'Liberation Sans', Arial, Helvetica, sans-serif" stroke="#000" stroke-width="0.3" font-size="25">0.1</text>
<line x1="1213.2" y1="585.7" x2="1213.2" y2="583.5" stroke="#000" stroke-width="1.3"/>
<text x="1217.1" y="620.6" text-anchor="middle" font-family="'Liberation Sans', Arial, Helvetica, sans-serif" stroke="#000" stroke-width="0.3" font-size="25">0.2</text>
<line x1="958.7" y1="529.8" x2="960.9" y2="529.8" stroke="#000" stroke-width="1.3"/>
<line x1="958.7" y1="463.4" x2="960.9" y2="463.4" stroke="#000" stroke-width="1.3"/>
<line x1="958.7" y1="397.0" x2="960.9" y2="397.0" stroke="#000" stroke-width="1.3"/>
<line x1="958.7" y1="330.6" x2="960.9" y2="330.6" stroke="#000" stroke-width="1.3"/>
<line x1="958.7" y1="264.2" x2="960.9" y2="264.2" stroke="#000" stroke-width="1.3"/>
<line x1="958.7" y1="197.8" x2="960.9" y2="197.8" stroke="#000" stroke-width="1.3"/>
<line x1="958.7" y1="131.4" x2="960.9" y2="131.4" stroke="#000" stroke-width="1.3"/>
<text x="1101.3" y="658.6" text-anchor="middle" font-family="'Liberation Sans', Arial, Helvetica, sans-serif" stroke="#000" stroke-width="0.3" font-size="25">x, kpc</text>
<rect x="1251.3" y="75.2" width="16.0" height="512.6" fill="url(#cbg)"/>
<rect x="1252.0" y="75.9" width="14.6" height="511.2" fill="none" stroke="#000" stroke-width="1.5"/>
<g clip-path="url(#clip3)">
<rect x="1372.0" y="77.3" width="284.6" height="508.4" fill="url(#band4)"/>
<rect x="1411.1" y="274.0" width="52.0" height="112.0" rx="22.1" ry="28.0" fill="url(#lobeg1)" filter="url(#b2)"/>
<rect x="1566.1" y="274.5" width="51.0" height="112.0" rx="21.7" ry="28.0" fill="url(#lobeg1)" filter="url(#b2)"/>
<ellipse cx="1427.6" cy="331.0" rx="10" ry="30" fill="#ff8000" opacity="0.60" filter="url(#b6)"/>
<ellipse cx="1601.6" cy="333.0" rx="10" ry="30" fill="#ff8000" opacity="0.60" filter="url(#b6)"/>
<rect x="1464.6" y="283.0" width="100.0" height="13" fill="#fff000" opacity="0.90" filter="url(#b25)"/>
<rect x="1464.6" y="362.0" width="100.0" height="13" fill="#fff000" opacity="0.90" filter="url(#b25)"/>
<ellipse cx="1488.6" cy="329.0" rx="5" ry="40" fill="#ff8500" opacity="0.4" filter="url(#b2)"/>
<ellipse cx="1538.6" cy="329.0" rx="4" ry="42" fill="#ff8500" opacity="0.3" filter="url(#b2)"/>
<ellipse cx="1537.6" cy="330.0" rx="1.6" ry="9" fill="#ff5200" filter="url(#b1)"/>
<ellipse cx="1549.6" cy="330.0" rx="8" ry="6" fill="#ff8500" opacity="0.5" filter="url(#b2)"/>
<path d="M1485.6 284 Q 1491.6 274 1500.6 262" stroke="#e0ff00" stroke-width="2" fill="none" opacity="0.7" filter="url(#b1)"/>
<path d="M1485.6 374 Q 1487.6 382 1491.6 392" stroke="#fff500" stroke-width="2.5" fill="none" opacity="0.8" filter="url(#b1)"/>
<path d="M1480.6 252.0 L1481.6 232.0 L1485.6 219.0 L1493.6 214.0 L1503.6 212.0 L1510.6 216.0 L1515.6 209.5 L1519.6 215.0 L1525.6 213.0 L1533.6 201.5 L1537.6 203.0 L1541.6 220.0 L1543.6 252.0 Z" fill="url(#wispu)" filter="url(#b15)"/>
<path d="M1485.6 243 Q 1486.6 222 1495.6 216" stroke="#66ff00" stroke-width="2" fill="none" opacity="0.55" filter="url(#b1)"/>
<path d="M1504.6 214 Q 1509.6 222 1510.6 232" stroke="#66ff00" stroke-width="2" fill="none" opacity="0.55" filter="url(#b1)"/>
<path d="M1503.6 241 Q 1493.6 244 1485.6 242" stroke="#66ff00" stroke-width="2" fill="none" opacity="0.55" filter="url(#b1)"/>
<path d="M1516.1 211 L 1516.6 238" stroke="#66ff00" stroke-width="2" fill="none" opacity="0.55" filter="url(#b1)"/>
<path d="M1517.1 237 Q 1525.6 218 1534.6 204" stroke="#66ff00" stroke-width="2" fill="none" opacity="0.55" filter="url(#b1)"/>
<path d="M1534.6 204 Q 1540.6 222 1541.6 244" stroke="#66ff00" stroke-width="2" fill="none" opacity="0.55" filter="url(#b1)"/>
<circle cx="1489.6" cy="228.0" r="3.0" fill="#52ff00" opacity="0.6" filter="url(#b1)"/>
<circle cx="1503.6" cy="236.0" r="2.5" fill="#00d629" opacity="0.6" filter="url(#b1)"/>
<circle cx="1527.6" cy="222.0" r="3.0" fill="#3dff00" opacity="0.6" filter="url(#b1)"/>
<circle cx="1521.6" cy="232.0" r="2.5" fill="#00e01f" opacity="0.6" filter="url(#b1)"/>
<circle cx="1497.6" cy="222.0" r="2.0" fill="#3dff00" opacity="0.6" filter="url(#b1)"/>
<circle cx="1533.6" cy="214.0" r="2.0" fill="#52ff00" opacity="0.6" filter="url(#b1)"/>
<ellipse cx="1497.6" cy="229" rx="7" ry="6" fill="#00d629" opacity="0.5" filter="url(#b2)"/>
<path d="M1520.4 159.3 L1513.6 168.0 L1507.6 172.0 L1503.6 173.5 L1501.6 178.0 L1500.6 187.0 L1499.6 197.0 L1499.1 203.0 L1540.1 203.0 L1539.6 197.0 L1538.1 187.0 L1535.6 177.0 L1530.6 168.0 L1524.6 162.0 Z" fill="#a8a8ff" opacity="0.92" filter="url(#b1)"/>
<path d="M1525.6 164.0 L1530.6 170.0 L1535.6 180.0 L1538.6 192.0 L1539.6 202.0 L1527.6 202.0 L1525.6 188.0 Z" fill="#8080ff" opacity="0.7" filter="url(#b1)"/>
<path d="M1520.4 160.5 L 1514.6 169.0 L 1507.1 173.0 L 1502.6 175.0" stroke="#3333ff" stroke-width="2.2" fill="none" opacity="0.7" filter="url(#b1)"/>
<path d="M1523.1 165.0 L 1524.1 200.0" stroke="#3d3dff" stroke-width="3" fill="none" opacity="0.55" filter="url(#b15)"/>
<rect x="1499.1" y="190.0" width="41" height="14" fill="url(#bbase)" filter="url(#b15)"/>
<path d="M1479.1 402.0 L1479.6 440.0 L1483.6 450.0 L1489.6 454.0 L1496.6 455.0 L1503.6 452.0 L1509.6 448.0 L1514.6 447.0 L1516.6 456.0 L1518.6 448.0 L1527.6 447.0 L1539.6 447.0 L1543.6 444.0 L1545.1 430.0 L1545.1 402.0 Z" fill="url(#wispg)" filter="url(#b15)"/>
<path d="M1517.0 439 L 1517.0 456" stroke="#66ff00" stroke-width="2" fill="none" opacity="0.55" filter="url(#b1)"/>
<path d="M1519.6 426 Q 1523.6 440 1531.6 440 Q 1539.6 438 1541.6 418" stroke="#66ff00" stroke-width="2" fill="none" opacity="0.55" filter="url(#b1)"/>
<path d="M1483.6 415 Q 1485.6 440 1493.6 449 Q 1501.6 452 1509.6 446" stroke="#66ff00" stroke-width="2" fill="none" opacity="0.55" filter="url(#b1)"/>
<path d="M1493.6 420 Q 1499.6 432 1505.6 440" stroke="#66ff00" stroke-width="2" fill="none" opacity="0.55" filter="url(#b1)"/>
<circle cx="1487.6" cy="420.0" r="3.0" fill="#47ff00" opacity="0.6" filter="url(#b1)"/>
<circle cx="1501.6" cy="432.0" r="2.5" fill="#00d629" opacity="0.6" filter="url(#b1)"/>
<circle cx="1527.6" cy="425.0" r="3.0" fill="#3dff00" opacity="0.6" filter="url(#b1)"/>
<circle cx="1507.6" cy="444.0" r="2.5" fill="#00e01f" opacity="0.6" filter="url(#b1)"/>
<circle cx="1493.6" cy="446.0" r="2.0" fill="#33ff00" opacity="0.6" filter="url(#b1)"/>
<circle cx="1535.6" cy="436.0" r="2.0" fill="#52ff00" opacity="0.6" filter="url(#b1)"/>
<path d="M1486.6 380 Q 1488.6 388 1490.6 396" stroke="#ffcc00" stroke-width="2" fill="none" opacity="0.7" filter="url(#b1)"/>
<path d="M1494.6 456.0 L1495.6 480.0 L1497.6 500.0 L1501.6 511.0 L1507.6 513.5 L1515.6 511.5 L1523.6 508.0 L1533.6 503.0 L1539.6 495.0 L1542.6 480.0 L1543.1 456.0 Z" fill="#d1d1ff" opacity="0.75" filter="url(#b15)"/>
<path d="M1497.1 458 C 1496.6 480 1498.6 500 1503.6 511" stroke="#7575ff" stroke-width="3" fill="none" opacity="0.75" filter="url(#b1)"/>
<path d="M1541.1 458 C 1541.6 480 1539.6 495 1533.6 503" stroke="#8a8aff" stroke-width="2.5" fill="none" opacity="0.7" filter="url(#b1)"/>
<path d="M1519.6 458 L 1520.6 500" stroke="#a8a8ff" stroke-width="2" fill="none" opacity="0.5" filter="url(#b1)"/>
<ellipse cx="1507.1" cy="507.5" rx="6" ry="3.2" fill="#c2c2ff" filter="url(#b1)"/>
</g>
<rect x="1370.8" y="76.1" width="287.0" height="510.8" fill="none" stroke="#000" stroke-width="2.4"/>
<line x1="1401.7" y1="585.7" x2="1401.7" y2="583.5" stroke="#000" stroke-width="1.3"/>
<text x="1402.2" y="620.6" text-anchor="middle" font-family="'Liberation Sans', Arial, Helvetica, sans-serif" stroke="#000" stroke-width="0.3" font-size="25">-0.2</text>
<line x1="1457.9" y1="585.7" x2="1457.9" y2="583.5" stroke="#000" stroke-width="1.3"/>
<text x="1458.4" y="620.6" text-anchor="middle" font-family="'Liberation Sans', Arial, Helvetica, sans-serif" stroke="#000" stroke-width="0.3" font-size="25">-0.1</text>
<line x1="1514.1" y1="585.7" x2="1514.1" y2="583.5" stroke="#000" stroke-width="1.3"/>
<text x="1518.0" y="620.6" text-anchor="middle" font-family="'Liberation Sans', Arial, Helvetica, sans-serif" stroke="#000" stroke-width="0.3" font-size="25">0</text>
<line x1="1570.3" y1="585.7" x2="1570.3" y2="583.5" stroke="#000" stroke-width="1.3"/>
<text x="1574.2" y="620.6" text-anchor="middle" font-family="'Liberation Sans', Arial, Helvetica, sans-serif" stroke="#000" stroke-width="0.3" font-size="25">0.1</text>
<line x1="1626.5" y1="585.7" x2="1626.5" y2="583.5" stroke="#000" stroke-width="1.3"/>
<text x="1630.4" y="620.6" text-anchor="middle" font-family="'Liberation Sans', Arial, Helvetica, sans-serif" stroke="#000" stroke-width="0.3" font-size="25">0.2</text>
<line x1="1372.0" y1="529.8" x2="1374.2" y2="529.8" stroke="#000" stroke-width="1.3"/>
<line x1="1372.0" y1="463.4" x2="1374.2" y2="463.4" stroke="#000" stroke-width="1.3"/>
<line x1="1372.0" y1="397.0" x2="1374.2" y2="397.0" stroke="#000" stroke-width="1.3"/>
<line x1="1372.0" y1="330.6" x2="1374.2" y2="330.6" stroke="#000" stroke-width="1.3"/>
<line x1="1372.0" y1="264.2" x2="1374.2" y2="264.2" stroke="#000" stroke-width="1.3"/>
<line x1="1372.0" y1="197.8" x2="1374.2" y2="197.8" stroke="#000" stroke-width="1.3"/>
<line x1="1372.0" y1="131.4" x2="1374.2" y2="131.4" stroke="#000" stroke-width="1.3"/>
<text x="1514.6" y="658.6" text-anchor="middle" font-family="'Liberation Sans', Arial, Helvetica, sans-serif" stroke="#000" stroke-width="0.3" font-size="25">x, kpc</text>
<rect x="1664.6" y="75.2" width="16.0" height="512.6" fill="url(#cbg)"/>
<rect x="1665.3" y="75.9" width="14.6" height="511.2" fill="none" stroke="#000" stroke-width="1.5"/>
<text x="436.5" y="84.7" font-family="'Liberation Sans', Arial, Helvetica, sans-serif" stroke="#000" stroke-width="0.3" font-size="25">-12</text>
<line x1="405.6" y1="161.2" x2="422.8" y2="161.2" stroke="#111" stroke-width="1.3"/>
<text x="436.5" y="169.8" font-family="'Liberation Sans', Arial, Helvetica, sans-serif" stroke="#000" stroke-width="0.3" font-size="25">-13</text>
<line x1="405.6" y1="246.4" x2="422.8" y2="246.4" stroke="#111" stroke-width="1.3"/>
<text x="436.5" y="255.0" font-family="'Liberation Sans', Arial, Helvetica, sans-serif" stroke="#000" stroke-width="0.3" font-size="25">-14</text>
<line x1="405.6" y1="331.5" x2="422.8" y2="331.5" stroke="#111" stroke-width="1.3"/>
<text x="436.5" y="340.1" font-family="'Liberation Sans', Arial, Helvetica, sans-serif" stroke="#000" stroke-width="0.3" font-size="25">-15</text>
<line x1="405.6" y1="416.6" x2="422.8" y2="416.6" stroke="#111" stroke-width="1.3"/>
<text x="436.5" y="425.2" font-family="'Liberation Sans', Arial, Helvetica, sans-serif" stroke="#000" stroke-width="0.3" font-size="25">-16</text>
<line x1="405.6" y1="501.8" x2="422.8" y2="501.8" stroke="#111" stroke-width="1.3"/>
<text x="436.5" y="510.4" font-family="'Liberation Sans', Arial, Helvetica, sans-serif" stroke="#000" stroke-width="0.3" font-size="25">-17</text>
<text x="436.5" y="595.5" font-family="'Liberation Sans', Arial, Helvetica, sans-serif" stroke="#000" stroke-width="0.3" font-size="25">-18</text>
<text x="873.9" y="84.7" font-family="'Liberation Sans', Arial, Helvetica, sans-serif" stroke="#000" stroke-width="0.3" font-size="25">200</text>
<line x1="837.4" y1="203.8" x2="854.6" y2="203.8" stroke="#111" stroke-width="1.3"/>
<text x="873.9" y="212.4" font-family="'Liberation Sans', Arial, Helvetica, sans-serif" stroke="#000" stroke-width="0.3" font-size="25">150</text>
<line x1="837.4" y1="331.5" x2="854.6" y2="331.5" stroke="#111" stroke-width="1.3"/>
<text x="873.9" y="340.1" font-family="'Liberation Sans', Arial, Helvetica, sans-serif" stroke="#000" stroke-width="0.3" font-size="25">100</text>
<line x1="837.4" y1="459.2" x2="854.6" y2="459.2" stroke="#111" stroke-width="1.3"/>
<text x="873.9" y="467.8" font-family="'Liberation Sans', Arial, Helvetica, sans-serif" stroke="#000" stroke-width="0.3" font-size="25">50</text>
<text x="873.9" y="595.5" font-family="'Liberation Sans', Arial, Helvetica, sans-serif" stroke="#000" stroke-width="0.3" font-size="25">0</text>
<text x="1281.6" y="84.7" font-family="'Liberation Sans', Arial, Helvetica, sans-serif" stroke="#000" stroke-width="0.3" font-size="25">-1</text>
<line x1="1250.7" y1="161.2" x2="1267.9" y2="161.2" stroke="#111" stroke-width="1.3"/>
<text x="1281.6" y="169.8" font-family="'Liberation Sans', Arial, Helvetica, sans-serif" stroke="#000" stroke-width="0.3" font-size="25">-1.5</text>
<line x1="1250.7" y1="246.4" x2="1267.9" y2="246.4" stroke="#111" stroke-width="1.3"/>
<text x="1281.6" y="255.0" font-family="'Liberation Sans', Arial, Helvetica, sans-serif" stroke="#000" stroke-width="0.3" font-size="25">-2</text>
<line x1="1250.7" y1="331.5" x2="1267.9" y2="331.5" stroke="#111" stroke-width="1.3"/>
<text x="1281.6" y="340.1" font-family="'Liberation Sans', Arial, Helvetica, sans-serif" stroke="#000" stroke-width="0.3" font-size="25">-2.5</text>
<line x1="1250.7" y1="416.6" x2="1267.9" y2="416.6" stroke="#111" stroke-width="1.3"/>
<text x="1281.6" y="425.2" font-family="'Liberation Sans', Arial, Helvetica, sans-serif" stroke="#000" stroke-width="0.3" font-size="25">-3</text>
<line x1="1250.7" y1="501.8" x2="1267.9" y2="501.8" stroke="#111" stroke-width="1.3"/>
<text x="1281.6" y="510.4" font-family="'Liberation Sans', Arial, Helvetica, sans-serif" stroke="#000" stroke-width="0.3" font-size="25">-3.5</text>
<text x="1281.6" y="595.5" font-family="'Liberation Sans', Arial, Helvetica, sans-serif" stroke="#000" stroke-width="0.3" font-size="25">-4</text>
<text x="1700.5" y="84.7" font-family="'Liberation Sans', Arial, Helvetica, sans-serif" stroke="#000" stroke-width="0.3" font-size="25">21</text>
<line x1="1664.0" y1="161.2" x2="1681.2" y2="161.2" stroke="#111" stroke-width="1.3"/>
<text x="1700.5" y="169.8" font-family="'Liberation Sans', Arial, Helvetica, sans-serif" stroke="#000" stroke-width="0.3" font-size="25">20.5</text>
<line x1="1664.0" y1="246.4" x2="1681.2" y2="246.4" stroke="#111" stroke-width="1.3"/>
<text x="1700.5" y="255.0" font-family="'Liberation Sans', Arial, Helvetica, sans-serif" stroke="#000" stroke-width="0.3" font-size="25">20</text>
<line x1="1664.0" y1="331.5" x2="1681.2" y2="331.5" stroke="#111" stroke-width="1.3"/>
<text x="1700.5" y="340.1" font-family="'Liberation Sans', Arial, Helvetica, sans-serif" stroke="#000" stroke-width="0.3" font-size="25">19.5</text>
<line x1="1664.0" y1="416.6" x2="1681.2" y2="416.6" stroke="#111" stroke-width="1.3"/>
<text x="1700.5" y="425.2" font-family="'Liberation Sans', Arial, Helvetica, sans-serif" stroke="#000" stroke-width="0.3" font-size="25">19</text>
<line x1="1664.0" y1="501.8" x2="1681.2" y2="501.8" stroke="#111" stroke-width="1.3"/>
<text x="1700.5" y="510.4" font-family="'Liberation Sans', Arial, Helvetica, sans-serif" stroke="#000" stroke-width="0.3" font-size="25">18.5</text>
<text x="1700.5" y="595.5" font-family="'Liberation Sans', Arial, Helvetica, sans-serif" stroke="#000" stroke-width="0.3" font-size="25">18</text>
<text x="98" y="539.6" text-anchor="end" font-family="'Liberation Sans', Arial, Helvetica, sans-serif" stroke="#000" stroke-width="0.3" font-size="25">-0.3</text>
<text x="98" y="473.2" text-anchor="end" font-family="'Liberation Sans', Arial, Helvetica, sans-serif" stroke="#000" stroke-width="0.3" font-size="25">-0.2</text>
<text x="98" y="406.8" text-anchor="end" font-family="'Liberation Sans', Arial, Helvetica, sans-serif" stroke="#000" stroke-width="0.3" font-size="25">-0.1</text>
<text x="98" y="340.4" text-anchor="end" font-family="'Liberation Sans', Arial, Helvetica, sans-serif" stroke="#000" stroke-width="0.3" font-size="25">0.0</text>
<text x="98" y="274.0" text-anchor="end" font-family="'Liberation Sans', Arial, Helvetica, sans-serif" stroke="#000" stroke-width="0.3" font-size="25">0.1</text>
<text x="98" y="207.6" text-anchor="end" font-family="'Liberation Sans', Arial, Helvetica, sans-serif" stroke="#000" stroke-width="0.3" font-size="25">0.2</text>
<text x="98" y="141.2" text-anchor="end" font-family="'Liberation Sans', Arial, Helvetica, sans-serif" stroke="#000" stroke-width="0.3" font-size="25">0.3</text>
<text x="0" y="0" transform="translate(21.6 331.8) rotate(-90)" text-anchor="middle" font-family="'Liberation Sans', Arial, Helvetica, sans-serif" stroke="#000" stroke-width="0.3" font-size="25">z, kpc</text>
<text x="252.6" y="21.5" text-anchor="middle" font-family="'Liberation Sans', Arial, Helvetica, sans-serif" stroke="#000" stroke-width="0.3" font-size="25.4">lg(I(H<tspan font-family="'Liberation Serif', serif">&#945;</tspan>),</text>
<text x="259.5" y="49.8" text-anchor="middle" font-family="'Liberation Sans', Arial, Helvetica, sans-serif" stroke="#000" stroke-width="0.3" font-size="25.4">[erg cm<tspan font-size="19.5" dy="-12.3">-2</tspan><tspan dy="12.3"> s</tspan><tspan font-size="19.5" dy="-12.3">-1</tspan><tspan dy="12.3"> arcsec</tspan><tspan font-size="19.5" dy="-12.3">-2</tspan><tspan dy="12.3">])</tspan></text>
<text x="683.7" y="21.9" text-anchor="middle" font-family="'Liberation Sans', Arial, Helvetica, sans-serif" stroke="#000" stroke-width="0.3" font-size="25.4"><tspan font-family="'Liberation Serif', serif">&#963;</tspan>,</text>
<text x="690.9" y="47.4" text-anchor="middle" font-family="'Liberation Sans', Arial, Helvetica, sans-serif" stroke="#000" stroke-width="0.3" font-size="25.4">[km/s]</text>
<text x="1097.4" y="21.3" text-anchor="middle" font-family="'Liberation Sans', Arial, Helvetica, sans-serif" stroke="#000" stroke-width="0.3" font-size="25.4">lg(I(0.7-1.2 keV),</text>
<text x="1103.8" y="49.5" text-anchor="middle" font-family="'Liberation Sans', Arial, Helvetica, sans-serif" stroke="#000" stroke-width="0.3" font-size="25.4">[keV cm<tspan font-size="19.5" dy="-12.3">-2</tspan><tspan dy="12.3"> s</tspan><tspan font-size="19.5" dy="-12.3">-1</tspan><tspan dy="12.3"> str</tspan><tspan font-size="19.5" dy="-12.3">-1</tspan><tspan dy="12.3">])</tspan></text>
<text x="1510.5" y="21.1" text-anchor="middle" font-family="'Liberation Sans', Arial, Helvetica, sans-serif" stroke="#000" stroke-width="0.3" font-size="25.4">lg(N(HI),</text>
<text x="1517.7" y="49.9" text-anchor="middle" font-family="'Liberation Sans', Arial, Helvetica, sans-serif" stroke="#000" stroke-width="0.3" font-size="25.4">[cm<tspan font-size="19.5" dy="-12.3">-2</tspan><tspan dy="12.3">])</tspan></text>
</svg>
</body></html>
